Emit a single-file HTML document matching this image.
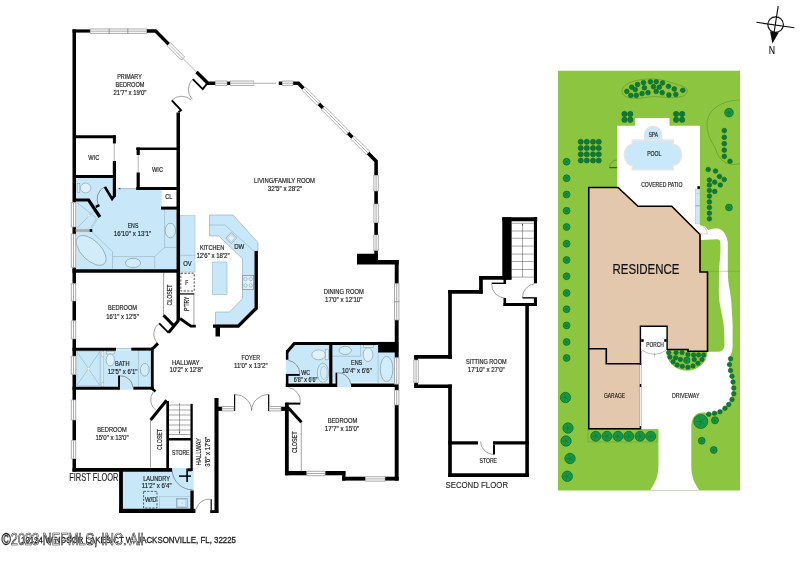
<!DOCTYPE html>
<html><head><meta charset="utf-8"><title>Floor plan</title>
<style>
html,body{margin:0;padding:0;background:#fff;}
body{width:800px;height:565px;overflow:hidden;}
svg{display:block;font-family:"Liberation Sans",sans-serif;}
</style></head><body>
<svg width="800" height="565" viewBox="0 0 800 565">
<defs><filter id="bl" filterUnits="userSpaceOnUse" x="0" y="0" width="800" height="565"><feGaussianBlur stdDeviation="0.35"/></filter></defs>
<rect width="800" height="565" fill="#fff"/>
<g filter="url(#bl)">
<rect x="558" y="70.75" width="182" height="419.75" fill="#8cc63f" stroke="none" stroke-width="0" />
<path d="M740,100 C725,100 707,108 707,124 C707,138 714,144 716,150 C718,158 724,163 730,164 C734,165 738,164 740,163.5" fill="none" stroke="#4f8a26" stroke-width="0.5"/>
<path d="M622,91 C622,83 638,78.5 653,79 C666,79.5 674,84 682,86 C689,87.5 689,94 682,96.5 C672,99.5 658,95.5 648,97 C636,99.5 622,99 622,91 Z" fill="none" stroke="#4f8a26" stroke-width="0.5"/>
<polygon points="617,125.75 635,125.75 635,118 669.5,118 669.5,125.75 700,125.75 700,236 617,236" fill="#fff" stroke="none" stroke-width="0"/>
<path d="M700.1,225 C704,225.5 707,227.5 708,230 C711,229 714,228.5 717.2,228.6 C722,229 726,233 727.8,242 L727.8,272 C727.8,285 731,292 731.5,305 C732,315 732.6,320 732.6,326 L732.6,346 C732.6,352 730.5,355 729.5,358 C728.5,365 729,368 730,372 C731.5,378 732.6,384 732.6,390 C732.6,398 728.5,405 721.5,409.7 C716,412.8 710,413.8 704,412.6 C697,411.5 691.6,417 691.3,425 L691.25,465 C691.25,478 695,484 699.5,490.5 L650,490.5 C654,484 658.5,478 658.5,465 L658.5,429.5 L640.5,429.5 L640.5,350 L667,350 L667,351 L707.5,351.8 L717.6,351.8 C722,351.8 724.5,349 724.5,345 L724.3,335 C724,325 723.4,323 722,315 C720,305 718.8,300 718.8,290 L719,275 C719,265 720.4,258 720.4,250 L720.3,243 C720.3,240.5 719.7,239.4 717,239.3 L701.7,240 C700.5,240 700.1,239 700.1,238 L700.1,225 Z" fill="#fff"/>
<path d="M666.25,351.25 A20.6,19.5 0 0 0 707.5,351.25 Z" fill="#8cc63f"/>
<line x1="650" y1="490.3" x2="699.5" y2="490.3" stroke="#bbb" stroke-width="0.5"/>
<rect x="588" y="429.5" width="69" height="12.5" fill="none" stroke="#5d9a2c" stroke-width="0.5" />
<polygon points="588.75,187.5 618,187.5 638,206.25 671.75,206.25 700,234.5 700,272 707.5,272 707.5,351.25 688,351.25 688,349.5 667,349.5 667,326.25 640.5,326.25 640.5,363.75 606.25,363.75 606.25,348.75 588.75,348.75" fill="#e3c8ad" stroke="#000" stroke-width="1.6"/>
<polygon points="588.75,348.75 606.25,348.75 606.25,363.75 640.5,363.75 640.5,428.75 588.75,428.75" fill="#e3c8ad" stroke="#000" stroke-width="1.6"/>
<rect x="639.6" y="365" width="1.8" height="61" fill="#eee" stroke="none" stroke-width="0" />
<rect x="639.8" y="384" width="1.4" height="3" fill="#000" stroke="none" stroke-width="0" />
<rect x="641.2" y="327" width="25.1" height="24" fill="#fff" stroke="none" stroke-width="0" />
<rect x="641.2" y="339.2" width="2.5" height="2.6" fill="#000" stroke="none" stroke-width="0" />
<rect x="664.2" y="339.2" width="2.5" height="2.6" fill="#000" stroke="none" stroke-width="0" />
<path d="M642.4,350.4 Q654.5,358.4 666,350.4" fill="none" stroke="#777" stroke-width="0.5"/>
<line x1="654.5" y1="353" x2="654.5" y2="357.7" stroke="#777" stroke-width="0.4"/>
<path d="M644.7,140.1 L644.7,134.5 A8.45,8.4 0 0 1 661.6,134.5 L661.6,140.1 Z" fill="#c9e8fa" stroke="#e4e6e8" stroke-width="1.4"/>
<path d="M632.3,140.1 L673.1,140.1 L673.1,144.5 A8.4,10.35 0 0 1 673.1,165.2 L673.1,169.6 L632.3,169.6 L632.3,165.2 A7.9,10.35 0 0 1 632.3,144.5 Z" fill="#c9e8fa" stroke="#e4e6e8" stroke-width="1.6"/>
<path d="M609.6,167.2 A7.5,7.3 0 0 1 617.2,160" fill="none" stroke="#4c6a1c" stroke-width="0.5"/>
<line x1="609.4" y1="167.6" x2="617.2" y2="167.6" stroke="#4a5a1a" stroke-width="1.3"/>
<rect x="695.3" y="189.3" width="4.6" height="34.7" fill="#cfe9fa" stroke="#9db7c6" stroke-width="0.4" />
<rect x="697.4" y="186.2" width="2.5" height="2.7" fill="#000" stroke="none" stroke-width="0" />
<line x1="695.3" y1="193.5" x2="699.9" y2="193.5" stroke="#9db7c6" stroke-width="0.4"/>
<line x1="695.3" y1="205.8" x2="699.9" y2="205.8" stroke="#777" stroke-width="0.6"/>
<path d="M700.1,225.2 A8.7,8.7 0 0 1 707.3,233.9 L700.1,233.9" fill="none" stroke="#999" stroke-width="0.45"/>
<line x1="708" y1="271.25" x2="740" y2="271.25" stroke="#5d9a2c" stroke-width="0.4"/>
<circle cx="566.6" cy="161.75" r="3.4" fill="#169845" stroke="#0a632a" stroke-width="0.7"/>
<line x1="566.6" y1="161.75" x2="568.7" y2="163.19" stroke="#0a6a2c" stroke-width="0.4"/>
<line x1="566.6" y1="161.75" x2="565.88" y2="164.2" stroke="#0a6a2c" stroke-width="0.4"/>
<line x1="566.6" y1="161.75" x2="564.05" y2="161.82" stroke="#0a6a2c" stroke-width="0.4"/>
<line x1="566.6" y1="161.75" x2="565.74" y2="159.35" stroke="#0a6a2c" stroke-width="0.4"/>
<line x1="566.6" y1="161.75" x2="568.62" y2="160.19" stroke="#0a6a2c" stroke-width="0.4"/>
<circle cx="566.6" cy="178.25" r="3.4" fill="#169845" stroke="#0a632a" stroke-width="0.7"/>
<line x1="566.6" y1="178.25" x2="568.7" y2="179.69" stroke="#0a6a2c" stroke-width="0.4"/>
<line x1="566.6" y1="178.25" x2="565.88" y2="180.7" stroke="#0a6a2c" stroke-width="0.4"/>
<line x1="566.6" y1="178.25" x2="564.05" y2="178.32" stroke="#0a6a2c" stroke-width="0.4"/>
<line x1="566.6" y1="178.25" x2="565.74" y2="175.85" stroke="#0a6a2c" stroke-width="0.4"/>
<line x1="566.6" y1="178.25" x2="568.62" y2="176.69" stroke="#0a6a2c" stroke-width="0.4"/>
<circle cx="566.6" cy="194.5" r="3.4" fill="#169845" stroke="#0a632a" stroke-width="0.7"/>
<line x1="566.6" y1="194.5" x2="568.7" y2="195.94" stroke="#0a6a2c" stroke-width="0.4"/>
<line x1="566.6" y1="194.5" x2="565.88" y2="196.95" stroke="#0a6a2c" stroke-width="0.4"/>
<line x1="566.6" y1="194.5" x2="564.05" y2="194.57" stroke="#0a6a2c" stroke-width="0.4"/>
<line x1="566.6" y1="194.5" x2="565.74" y2="192.1" stroke="#0a6a2c" stroke-width="0.4"/>
<line x1="566.6" y1="194.5" x2="568.62" y2="192.94" stroke="#0a6a2c" stroke-width="0.4"/>
<circle cx="566.6" cy="210.75" r="3.4" fill="#169845" stroke="#0a632a" stroke-width="0.7"/>
<line x1="566.6" y1="210.75" x2="568.7" y2="212.19" stroke="#0a6a2c" stroke-width="0.4"/>
<line x1="566.6" y1="210.75" x2="565.88" y2="213.2" stroke="#0a6a2c" stroke-width="0.4"/>
<line x1="566.6" y1="210.75" x2="564.05" y2="210.82" stroke="#0a6a2c" stroke-width="0.4"/>
<line x1="566.6" y1="210.75" x2="565.74" y2="208.35" stroke="#0a6a2c" stroke-width="0.4"/>
<line x1="566.6" y1="210.75" x2="568.62" y2="209.19" stroke="#0a6a2c" stroke-width="0.4"/>
<circle cx="566.6" cy="227" r="3.4" fill="#169845" stroke="#0a632a" stroke-width="0.7"/>
<line x1="566.6" y1="227" x2="568.7" y2="228.44" stroke="#0a6a2c" stroke-width="0.4"/>
<line x1="566.6" y1="227" x2="565.88" y2="229.45" stroke="#0a6a2c" stroke-width="0.4"/>
<line x1="566.6" y1="227" x2="564.05" y2="227.07" stroke="#0a6a2c" stroke-width="0.4"/>
<line x1="566.6" y1="227" x2="565.74" y2="224.6" stroke="#0a6a2c" stroke-width="0.4"/>
<line x1="566.6" y1="227" x2="568.62" y2="225.44" stroke="#0a6a2c" stroke-width="0.4"/>
<circle cx="566.6" cy="243.75" r="3.4" fill="#169845" stroke="#0a632a" stroke-width="0.7"/>
<line x1="566.6" y1="243.75" x2="568.7" y2="245.19" stroke="#0a6a2c" stroke-width="0.4"/>
<line x1="566.6" y1="243.75" x2="565.88" y2="246.2" stroke="#0a6a2c" stroke-width="0.4"/>
<line x1="566.6" y1="243.75" x2="564.05" y2="243.82" stroke="#0a6a2c" stroke-width="0.4"/>
<line x1="566.6" y1="243.75" x2="565.74" y2="241.35" stroke="#0a6a2c" stroke-width="0.4"/>
<line x1="566.6" y1="243.75" x2="568.62" y2="242.19" stroke="#0a6a2c" stroke-width="0.4"/>
<circle cx="566.6" cy="260" r="3.4" fill="#169845" stroke="#0a632a" stroke-width="0.7"/>
<line x1="566.6" y1="260" x2="568.7" y2="261.44" stroke="#0a6a2c" stroke-width="0.4"/>
<line x1="566.6" y1="260" x2="565.88" y2="262.45" stroke="#0a6a2c" stroke-width="0.4"/>
<line x1="566.6" y1="260" x2="564.05" y2="260.07" stroke="#0a6a2c" stroke-width="0.4"/>
<line x1="566.6" y1="260" x2="565.74" y2="257.6" stroke="#0a6a2c" stroke-width="0.4"/>
<line x1="566.6" y1="260" x2="568.62" y2="258.44" stroke="#0a6a2c" stroke-width="0.4"/>
<circle cx="566.6" cy="276.25" r="3.4" fill="#169845" stroke="#0a632a" stroke-width="0.7"/>
<line x1="566.6" y1="276.25" x2="568.7" y2="277.69" stroke="#0a6a2c" stroke-width="0.4"/>
<line x1="566.6" y1="276.25" x2="565.88" y2="278.7" stroke="#0a6a2c" stroke-width="0.4"/>
<line x1="566.6" y1="276.25" x2="564.05" y2="276.32" stroke="#0a6a2c" stroke-width="0.4"/>
<line x1="566.6" y1="276.25" x2="565.74" y2="273.85" stroke="#0a6a2c" stroke-width="0.4"/>
<line x1="566.6" y1="276.25" x2="568.62" y2="274.69" stroke="#0a6a2c" stroke-width="0.4"/>
<circle cx="566.6" cy="293" r="3.4" fill="#169845" stroke="#0a632a" stroke-width="0.7"/>
<line x1="566.6" y1="293" x2="568.7" y2="294.44" stroke="#0a6a2c" stroke-width="0.4"/>
<line x1="566.6" y1="293" x2="565.88" y2="295.45" stroke="#0a6a2c" stroke-width="0.4"/>
<line x1="566.6" y1="293" x2="564.05" y2="293.07" stroke="#0a6a2c" stroke-width="0.4"/>
<line x1="566.6" y1="293" x2="565.74" y2="290.6" stroke="#0a6a2c" stroke-width="0.4"/>
<line x1="566.6" y1="293" x2="568.62" y2="291.44" stroke="#0a6a2c" stroke-width="0.4"/>
<circle cx="566.6" cy="309.25" r="3.4" fill="#169845" stroke="#0a632a" stroke-width="0.7"/>
<line x1="566.6" y1="309.25" x2="568.7" y2="310.69" stroke="#0a6a2c" stroke-width="0.4"/>
<line x1="566.6" y1="309.25" x2="565.88" y2="311.7" stroke="#0a6a2c" stroke-width="0.4"/>
<line x1="566.6" y1="309.25" x2="564.05" y2="309.32" stroke="#0a6a2c" stroke-width="0.4"/>
<line x1="566.6" y1="309.25" x2="565.74" y2="306.85" stroke="#0a6a2c" stroke-width="0.4"/>
<line x1="566.6" y1="309.25" x2="568.62" y2="307.69" stroke="#0a6a2c" stroke-width="0.4"/>
<circle cx="566.6" cy="325.5" r="3.4" fill="#169845" stroke="#0a632a" stroke-width="0.7"/>
<line x1="566.6" y1="325.5" x2="568.7" y2="326.94" stroke="#0a6a2c" stroke-width="0.4"/>
<line x1="566.6" y1="325.5" x2="565.88" y2="327.95" stroke="#0a6a2c" stroke-width="0.4"/>
<line x1="566.6" y1="325.5" x2="564.05" y2="325.57" stroke="#0a6a2c" stroke-width="0.4"/>
<line x1="566.6" y1="325.5" x2="565.74" y2="323.1" stroke="#0a6a2c" stroke-width="0.4"/>
<line x1="566.6" y1="325.5" x2="568.62" y2="323.94" stroke="#0a6a2c" stroke-width="0.4"/>
<circle cx="566.6" cy="342" r="3.4" fill="#169845" stroke="#0a632a" stroke-width="0.7"/>
<line x1="566.6" y1="342" x2="568.7" y2="343.44" stroke="#0a6a2c" stroke-width="0.4"/>
<line x1="566.6" y1="342" x2="565.88" y2="344.45" stroke="#0a6a2c" stroke-width="0.4"/>
<line x1="566.6" y1="342" x2="564.05" y2="342.07" stroke="#0a6a2c" stroke-width="0.4"/>
<line x1="566.6" y1="342" x2="565.74" y2="339.6" stroke="#0a6a2c" stroke-width="0.4"/>
<line x1="566.6" y1="342" x2="568.62" y2="340.44" stroke="#0a6a2c" stroke-width="0.4"/>
<circle cx="566.6" cy="358" r="3.4" fill="#169845" stroke="#0a632a" stroke-width="0.7"/>
<line x1="566.6" y1="358" x2="568.7" y2="359.44" stroke="#0a6a2c" stroke-width="0.4"/>
<line x1="566.6" y1="358" x2="565.88" y2="360.45" stroke="#0a6a2c" stroke-width="0.4"/>
<line x1="566.6" y1="358" x2="564.05" y2="358.07" stroke="#0a6a2c" stroke-width="0.4"/>
<line x1="566.6" y1="358" x2="565.74" y2="355.6" stroke="#0a6a2c" stroke-width="0.4"/>
<line x1="566.6" y1="358" x2="568.62" y2="356.44" stroke="#0a6a2c" stroke-width="0.4"/>
<circle cx="565.5" cy="397.5" r="5.2" fill="#169845" stroke="#0a632a" stroke-width="0.7"/>
<line x1="565.5" y1="397.5" x2="568.72" y2="399.7" stroke="#0a6a2c" stroke-width="0.4"/>
<line x1="565.5" y1="397.5" x2="564.4" y2="401.24" stroke="#0a6a2c" stroke-width="0.4"/>
<line x1="565.5" y1="397.5" x2="561.6" y2="397.61" stroke="#0a6a2c" stroke-width="0.4"/>
<line x1="565.5" y1="397.5" x2="564.19" y2="393.83" stroke="#0a6a2c" stroke-width="0.4"/>
<line x1="565.5" y1="397.5" x2="568.59" y2="395.12" stroke="#0a6a2c" stroke-width="0.4"/>
<circle cx="568" cy="428" r="5.2" fill="#169845" stroke="#0a632a" stroke-width="0.7"/>
<line x1="568" y1="428" x2="571.22" y2="430.2" stroke="#0a6a2c" stroke-width="0.4"/>
<line x1="568" y1="428" x2="566.9" y2="431.74" stroke="#0a6a2c" stroke-width="0.4"/>
<line x1="568" y1="428" x2="564.1" y2="428.11" stroke="#0a6a2c" stroke-width="0.4"/>
<line x1="568" y1="428" x2="566.69" y2="424.33" stroke="#0a6a2c" stroke-width="0.4"/>
<line x1="568" y1="428" x2="571.09" y2="425.62" stroke="#0a6a2c" stroke-width="0.4"/>
<circle cx="566" cy="441" r="5.2" fill="#169845" stroke="#0a632a" stroke-width="0.7"/>
<line x1="566" y1="441" x2="569.22" y2="443.2" stroke="#0a6a2c" stroke-width="0.4"/>
<line x1="566" y1="441" x2="564.9" y2="444.74" stroke="#0a6a2c" stroke-width="0.4"/>
<line x1="566" y1="441" x2="562.1" y2="441.11" stroke="#0a6a2c" stroke-width="0.4"/>
<line x1="566" y1="441" x2="564.69" y2="437.33" stroke="#0a6a2c" stroke-width="0.4"/>
<line x1="566" y1="441" x2="569.09" y2="438.62" stroke="#0a6a2c" stroke-width="0.4"/>
<circle cx="570" cy="458.5" r="5.2" fill="#169845" stroke="#0a632a" stroke-width="0.7"/>
<line x1="570" y1="458.5" x2="573.22" y2="460.7" stroke="#0a6a2c" stroke-width="0.4"/>
<line x1="570" y1="458.5" x2="568.9" y2="462.24" stroke="#0a6a2c" stroke-width="0.4"/>
<line x1="570" y1="458.5" x2="566.1" y2="458.61" stroke="#0a6a2c" stroke-width="0.4"/>
<line x1="570" y1="458.5" x2="568.69" y2="454.83" stroke="#0a6a2c" stroke-width="0.4"/>
<line x1="570" y1="458.5" x2="573.09" y2="456.12" stroke="#0a6a2c" stroke-width="0.4"/>
<circle cx="567.3" cy="476.25" r="5.2" fill="#169845" stroke="#0a632a" stroke-width="0.7"/>
<line x1="567.3" y1="476.25" x2="570.52" y2="478.45" stroke="#0a6a2c" stroke-width="0.4"/>
<line x1="567.3" y1="476.25" x2="566.2" y2="479.99" stroke="#0a6a2c" stroke-width="0.4"/>
<line x1="567.3" y1="476.25" x2="563.4" y2="476.36" stroke="#0a6a2c" stroke-width="0.4"/>
<line x1="567.3" y1="476.25" x2="565.99" y2="472.58" stroke="#0a6a2c" stroke-width="0.4"/>
<line x1="567.3" y1="476.25" x2="570.39" y2="473.87" stroke="#0a6a2c" stroke-width="0.4"/>
<circle cx="580.75" cy="141.75" r="2.6" fill="#107a36" stroke="#0a5c27" stroke-width="0.5"/>
<circle cx="580.75" cy="148" r="2.6" fill="#107a36" stroke="#0a5c27" stroke-width="0.5"/>
<circle cx="580.75" cy="154.25" r="2.6" fill="#107a36" stroke="#0a5c27" stroke-width="0.5"/>
<circle cx="580.75" cy="160.5" r="2.6" fill="#107a36" stroke="#0a5c27" stroke-width="0.5"/>
<circle cx="586.75" cy="141.75" r="2.6" fill="#107a36" stroke="#0a5c27" stroke-width="0.5"/>
<circle cx="586.75" cy="148" r="2.6" fill="#107a36" stroke="#0a5c27" stroke-width="0.5"/>
<circle cx="586.75" cy="154.25" r="2.6" fill="#107a36" stroke="#0a5c27" stroke-width="0.5"/>
<circle cx="586.75" cy="160.5" r="2.6" fill="#107a36" stroke="#0a5c27" stroke-width="0.5"/>
<circle cx="593" cy="141.75" r="2.6" fill="#107a36" stroke="#0a5c27" stroke-width="0.5"/>
<circle cx="593" cy="148" r="2.6" fill="#107a36" stroke="#0a5c27" stroke-width="0.5"/>
<circle cx="593" cy="154.25" r="2.6" fill="#107a36" stroke="#0a5c27" stroke-width="0.5"/>
<circle cx="593" cy="160.5" r="2.6" fill="#107a36" stroke="#0a5c27" stroke-width="0.5"/>
<circle cx="598.75" cy="141.75" r="2.6" fill="#107a36" stroke="#0a5c27" stroke-width="0.5"/>
<circle cx="598.75" cy="148" r="2.6" fill="#107a36" stroke="#0a5c27" stroke-width="0.5"/>
<circle cx="598.75" cy="154.25" r="2.6" fill="#107a36" stroke="#0a5c27" stroke-width="0.5"/>
<circle cx="598.75" cy="160.5" r="2.6" fill="#107a36" stroke="#0a5c27" stroke-width="0.5"/>
<circle cx="624.5" cy="114" r="2.7" fill="#107a36" stroke="#0a5c27" stroke-width="0.5"/>
<circle cx="630.3" cy="114" r="2.7" fill="#107a36" stroke="#0a5c27" stroke-width="0.5"/>
<circle cx="624.5" cy="119.8" r="2.7" fill="#107a36" stroke="#0a5c27" stroke-width="0.5"/>
<circle cx="630.3" cy="119.8" r="2.7" fill="#107a36" stroke="#0a5c27" stroke-width="0.5"/>
<circle cx="676.1" cy="114" r="2.7" fill="#107a36" stroke="#0a5c27" stroke-width="0.5"/>
<circle cx="682.1" cy="114" r="2.7" fill="#107a36" stroke="#0a5c27" stroke-width="0.5"/>
<circle cx="676.1" cy="119.8" r="2.7" fill="#107a36" stroke="#0a5c27" stroke-width="0.5"/>
<circle cx="682.1" cy="119.8" r="2.7" fill="#107a36" stroke="#0a5c27" stroke-width="0.5"/>
<circle cx="626.8" cy="91.4" r="2.4" fill="#107a36" stroke="#0a5c27" stroke-width="0.5"/>
<circle cx="630.8" cy="95.4" r="2.4" fill="#107a36" stroke="#0a5c27" stroke-width="0.5"/>
<circle cx="631.7" cy="87.2" r="2.4" fill="#107a36" stroke="#0a5c27" stroke-width="0.5"/>
<circle cx="636.3" cy="95.4" r="2.4" fill="#107a36" stroke="#0a5c27" stroke-width="0.5"/>
<circle cx="635.3" cy="89.6" r="2.4" fill="#107a36" stroke="#0a5c27" stroke-width="0.5"/>
<circle cx="637.5" cy="84.5" r="2.4" fill="#107a36" stroke="#0a5c27" stroke-width="0.5"/>
<circle cx="642" cy="93.6" r="2.4" fill="#107a36" stroke="#0a5c27" stroke-width="0.5"/>
<circle cx="643.5" cy="82.7" r="2.4" fill="#107a36" stroke="#0a5c27" stroke-width="0.5"/>
<circle cx="644.4" cy="87.8" r="2.4" fill="#107a36" stroke="#0a5c27" stroke-width="0.5"/>
<circle cx="648" cy="92.7" r="2.4" fill="#107a36" stroke="#0a5c27" stroke-width="0.5"/>
<circle cx="650.4" cy="81.8" r="2.4" fill="#107a36" stroke="#0a5c27" stroke-width="0.5"/>
<circle cx="653.5" cy="86.7" r="2.4" fill="#107a36" stroke="#0a5c27" stroke-width="0.5"/>
<circle cx="656.2" cy="81.8" r="2.4" fill="#107a36" stroke="#0a5c27" stroke-width="0.5"/>
<circle cx="656.2" cy="91.4" r="2.4" fill="#107a36" stroke="#0a5c27" stroke-width="0.5"/>
<circle cx="659.3" cy="87.2" r="2.4" fill="#107a36" stroke="#0a5c27" stroke-width="0.5"/>
<circle cx="662.5" cy="83" r="2.4" fill="#107a36" stroke="#0a5c27" stroke-width="0.5"/>
<circle cx="662.2" cy="92.7" r="2.4" fill="#107a36" stroke="#0a5c27" stroke-width="0.5"/>
<circle cx="668.5" cy="86.3" r="2.4" fill="#107a36" stroke="#0a5c27" stroke-width="0.5"/>
<circle cx="668.9" cy="95" r="2.4" fill="#107a36" stroke="#0a5c27" stroke-width="0.5"/>
<circle cx="674.3" cy="89" r="2.4" fill="#107a36" stroke="#0a5c27" stroke-width="0.5"/>
<circle cx="675.8" cy="94.5" r="2.4" fill="#107a36" stroke="#0a5c27" stroke-width="0.5"/>
<circle cx="682.8" cy="90.3" r="2.4" fill="#107a36" stroke="#0a5c27" stroke-width="0.5"/>
<circle cx="729" cy="112.6" r="4.3" fill="#169845" stroke="#0a632a" stroke-width="0.7"/>
<line x1="729" y1="112.6" x2="731.66" y2="114.42" stroke="#0a6a2c" stroke-width="0.4"/>
<line x1="729" y1="112.6" x2="728.09" y2="115.69" stroke="#0a6a2c" stroke-width="0.4"/>
<line x1="729" y1="112.6" x2="725.78" y2="112.69" stroke="#0a6a2c" stroke-width="0.4"/>
<line x1="729" y1="112.6" x2="727.92" y2="109.56" stroke="#0a6a2c" stroke-width="0.4"/>
<line x1="729" y1="112.6" x2="731.55" y2="110.63" stroke="#0a6a2c" stroke-width="0.4"/>
<circle cx="724.3" cy="130.6" r="2.4" fill="#107a36" stroke="#0a5c27" stroke-width="0.5"/>
<circle cx="724.3" cy="137.3" r="2.4" fill="#107a36" stroke="#0a5c27" stroke-width="0.5"/>
<circle cx="724.3" cy="143.7" r="2.4" fill="#107a36" stroke="#0a5c27" stroke-width="0.5"/>
<circle cx="724.3" cy="150.1" r="2.4" fill="#107a36" stroke="#0a5c27" stroke-width="0.5"/>
<circle cx="724.3" cy="156.4" r="2.4" fill="#107a36" stroke="#0a5c27" stroke-width="0.5"/>
<circle cx="730" cy="161.25" r="2.3" fill="#107a36" stroke="#0a5c27" stroke-width="0.5"/>
<circle cx="708.25" cy="169.5" r="2.35" fill="#107a36" stroke="#0a5c27" stroke-width="0.5"/>
<circle cx="715.5" cy="171" r="2.35" fill="#107a36" stroke="#0a5c27" stroke-width="0.5"/>
<circle cx="719.5" cy="176.5" r="2.35" fill="#107a36" stroke="#0a5c27" stroke-width="0.5"/>
<circle cx="724.25" cy="179.5" r="2.35" fill="#107a36" stroke="#0a5c27" stroke-width="0.5"/>
<circle cx="709.4" cy="180" r="2.35" fill="#107a36" stroke="#0a5c27" stroke-width="0.5"/>
<circle cx="714.7" cy="182.2" r="2.35" fill="#107a36" stroke="#0a5c27" stroke-width="0.5"/>
<circle cx="720.3" cy="185" r="2.35" fill="#107a36" stroke="#0a5c27" stroke-width="0.5"/>
<circle cx="709.4" cy="185" r="2.35" fill="#107a36" stroke="#0a5c27" stroke-width="0.5"/>
<circle cx="709.4" cy="190.5" r="2.35" fill="#107a36" stroke="#0a5c27" stroke-width="0.5"/>
<circle cx="714.7" cy="191.4" r="2.35" fill="#107a36" stroke="#0a5c27" stroke-width="0.5"/>
<circle cx="709.4" cy="196.1" r="2.35" fill="#107a36" stroke="#0a5c27" stroke-width="0.5"/>
<circle cx="709.4" cy="201.9" r="2.35" fill="#107a36" stroke="#0a5c27" stroke-width="0.5"/>
<circle cx="709.4" cy="207.5" r="2.35" fill="#107a36" stroke="#0a5c27" stroke-width="0.5"/>
<circle cx="709.4" cy="213.2" r="2.35" fill="#107a36" stroke="#0a5c27" stroke-width="0.5"/>
<circle cx="709.4" cy="218.8" r="2.35" fill="#107a36" stroke="#0a5c27" stroke-width="0.5"/>
<circle cx="729" cy="207.5" r="3.4" fill="#169845" stroke="#0a632a" stroke-width="0.7"/>
<line x1="729" y1="207.5" x2="731.1" y2="208.94" stroke="#0a6a2c" stroke-width="0.4"/>
<line x1="729" y1="207.5" x2="728.28" y2="209.95" stroke="#0a6a2c" stroke-width="0.4"/>
<line x1="729" y1="207.5" x2="726.45" y2="207.57" stroke="#0a6a2c" stroke-width="0.4"/>
<line x1="729" y1="207.5" x2="728.14" y2="205.1" stroke="#0a6a2c" stroke-width="0.4"/>
<line x1="729" y1="207.5" x2="731.02" y2="205.94" stroke="#0a6a2c" stroke-width="0.4"/>
<circle cx="668.8" cy="352.6" r="2.25" fill="#107a36" stroke="#0a5c27" stroke-width="0.5"/>
<circle cx="676.1" cy="352.4" r="2.25" fill="#107a36" stroke="#0a5c27" stroke-width="0.5"/>
<circle cx="682" cy="352.6" r="2.25" fill="#107a36" stroke="#0a5c27" stroke-width="0.5"/>
<circle cx="687.9" cy="354.6" r="2.25" fill="#107a36" stroke="#0a5c27" stroke-width="0.5"/>
<circle cx="693.6" cy="354.9" r="2.25" fill="#107a36" stroke="#0a5c27" stroke-width="0.5"/>
<circle cx="698.6" cy="354.9" r="2.25" fill="#107a36" stroke="#0a5c27" stroke-width="0.5"/>
<circle cx="703.7" cy="354.9" r="2.25" fill="#107a36" stroke="#0a5c27" stroke-width="0.5"/>
<circle cx="669.9" cy="357.1" r="2.25" fill="#107a36" stroke="#0a5c27" stroke-width="0.5"/>
<circle cx="675.6" cy="357.7" r="2.25" fill="#107a36" stroke="#0a5c27" stroke-width="0.5"/>
<circle cx="680.4" cy="359.4" r="2.25" fill="#107a36" stroke="#0a5c27" stroke-width="0.5"/>
<circle cx="694.3" cy="359.6" r="2.25" fill="#107a36" stroke="#0a5c27" stroke-width="0.5"/>
<circle cx="702" cy="359.6" r="2.25" fill="#107a36" stroke="#0a5c27" stroke-width="0.5"/>
<circle cx="673.1" cy="361.8" r="2.25" fill="#107a36" stroke="#0a5c27" stroke-width="0.5"/>
<circle cx="677.2" cy="365" r="2.25" fill="#107a36" stroke="#0a5c27" stroke-width="0.5"/>
<circle cx="682.3" cy="366.3" r="2.25" fill="#107a36" stroke="#0a5c27" stroke-width="0.5"/>
<circle cx="687.9" cy="367.2" r="2.25" fill="#107a36" stroke="#0a5c27" stroke-width="0.5"/>
<circle cx="693" cy="365.9" r="2.25" fill="#107a36" stroke="#0a5c27" stroke-width="0.5"/>
<circle cx="698" cy="363.3" r="2.25" fill="#107a36" stroke="#0a5c27" stroke-width="0.5"/>
<circle cx="686.8" cy="360.3" r="3.2" fill="#169845" stroke="#0a632a" stroke-width="0.7"/>
<line x1="686.8" y1="360.3" x2="688.78" y2="361.66" stroke="#0a6a2c" stroke-width="0.4"/>
<line x1="686.8" y1="360.3" x2="686.12" y2="362.6" stroke="#0a6a2c" stroke-width="0.4"/>
<line x1="686.8" y1="360.3" x2="684.4" y2="360.37" stroke="#0a6a2c" stroke-width="0.4"/>
<line x1="686.8" y1="360.3" x2="685.99" y2="358.04" stroke="#0a6a2c" stroke-width="0.4"/>
<line x1="686.8" y1="360.3" x2="688.7" y2="358.83" stroke="#0a6a2c" stroke-width="0.4"/>
<circle cx="730.5" cy="358.75" r="2.3" fill="#107a36" stroke="#0a5c27" stroke-width="0.5"/>
<circle cx="729.5" cy="364.5" r="2.3" fill="#107a36" stroke="#0a5c27" stroke-width="0.5"/>
<circle cx="730.5" cy="370.5" r="2.3" fill="#107a36" stroke="#0a5c27" stroke-width="0.5"/>
<circle cx="732" cy="376.25" r="2.3" fill="#107a36" stroke="#0a5c27" stroke-width="0.5"/>
<circle cx="733" cy="382" r="2.3" fill="#107a36" stroke="#0a5c27" stroke-width="0.5"/>
<circle cx="733.75" cy="388" r="2.3" fill="#107a36" stroke="#0a5c27" stroke-width="0.5"/>
<circle cx="733.75" cy="393.75" r="2.3" fill="#107a36" stroke="#0a5c27" stroke-width="0.5"/>
<circle cx="732" cy="399.5" r="2.3" fill="#107a36" stroke="#0a5c27" stroke-width="0.5"/>
<circle cx="728.75" cy="404.5" r="2.3" fill="#107a36" stroke="#0a5c27" stroke-width="0.5"/>
<circle cx="725" cy="408.25" r="2.3" fill="#107a36" stroke="#0a5c27" stroke-width="0.5"/>
<circle cx="720" cy="411.75" r="2.3" fill="#107a36" stroke="#0a5c27" stroke-width="0.5"/>
<circle cx="714.5" cy="413.25" r="2.3" fill="#107a36" stroke="#0a5c27" stroke-width="0.5"/>
<circle cx="708.75" cy="414.25" r="2.3" fill="#107a36" stroke="#0a5c27" stroke-width="0.5"/>
<circle cx="700.75" cy="421.5" r="7" fill="#169845" stroke="#0a632a" stroke-width="0.7"/>
<line x1="700.75" y1="421.5" x2="705.08" y2="424.46" stroke="#0a6a2c" stroke-width="0.4"/>
<line x1="700.75" y1="421.5" x2="699.27" y2="426.54" stroke="#0a6a2c" stroke-width="0.4"/>
<line x1="700.75" y1="421.5" x2="695.5" y2="421.65" stroke="#0a6a2c" stroke-width="0.4"/>
<line x1="700.75" y1="421.5" x2="698.99" y2="416.55" stroke="#0a6a2c" stroke-width="0.4"/>
<line x1="700.75" y1="421.5" x2="704.91" y2="418.3" stroke="#0a6a2c" stroke-width="0.4"/>
<circle cx="715" cy="420.3" r="3.5" fill="#169845" stroke="#0a632a" stroke-width="0.7"/>
<line x1="715" y1="420.3" x2="717.17" y2="421.78" stroke="#0a6a2c" stroke-width="0.4"/>
<line x1="715" y1="420.3" x2="714.26" y2="422.82" stroke="#0a6a2c" stroke-width="0.4"/>
<line x1="715" y1="420.3" x2="712.38" y2="420.37" stroke="#0a6a2c" stroke-width="0.4"/>
<line x1="715" y1="420.3" x2="714.12" y2="417.83" stroke="#0a6a2c" stroke-width="0.4"/>
<line x1="715" y1="420.3" x2="717.08" y2="418.7" stroke="#0a6a2c" stroke-width="0.4"/>
<circle cx="701.75" cy="440.75" r="3.4" fill="#169845" stroke="#0a632a" stroke-width="0.7"/>
<line x1="701.75" y1="440.75" x2="703.85" y2="442.19" stroke="#0a6a2c" stroke-width="0.4"/>
<line x1="701.75" y1="440.75" x2="701.03" y2="443.2" stroke="#0a6a2c" stroke-width="0.4"/>
<line x1="701.75" y1="440.75" x2="699.2" y2="440.82" stroke="#0a6a2c" stroke-width="0.4"/>
<line x1="701.75" y1="440.75" x2="700.89" y2="438.35" stroke="#0a6a2c" stroke-width="0.4"/>
<line x1="701.75" y1="440.75" x2="703.77" y2="439.19" stroke="#0a6a2c" stroke-width="0.4"/>
<circle cx="713.75" cy="450" r="3.4" fill="#169845" stroke="#0a632a" stroke-width="0.7"/>
<line x1="713.75" y1="450" x2="715.85" y2="451.44" stroke="#0a6a2c" stroke-width="0.4"/>
<line x1="713.75" y1="450" x2="713.03" y2="452.45" stroke="#0a6a2c" stroke-width="0.4"/>
<line x1="713.75" y1="450" x2="711.2" y2="450.07" stroke="#0a6a2c" stroke-width="0.4"/>
<line x1="713.75" y1="450" x2="712.89" y2="447.6" stroke="#0a6a2c" stroke-width="0.4"/>
<line x1="713.75" y1="450" x2="715.77" y2="448.44" stroke="#0a6a2c" stroke-width="0.4"/>
<circle cx="595.75" cy="436.25" r="5" fill="#169845" stroke="#0a632a" stroke-width="0.7"/>
<line x1="595.75" y1="436.25" x2="598.85" y2="438.37" stroke="#0a6a2c" stroke-width="0.4"/>
<line x1="595.75" y1="436.25" x2="594.69" y2="439.85" stroke="#0a6a2c" stroke-width="0.4"/>
<line x1="595.75" y1="436.25" x2="592.0" y2="436.36" stroke="#0a6a2c" stroke-width="0.4"/>
<line x1="595.75" y1="436.25" x2="594.49" y2="432.72" stroke="#0a6a2c" stroke-width="0.4"/>
<line x1="595.75" y1="436.25" x2="598.72" y2="433.96" stroke="#0a6a2c" stroke-width="0.4"/>
<circle cx="607" cy="436.25" r="5" fill="#169845" stroke="#0a632a" stroke-width="0.7"/>
<line x1="607" y1="436.25" x2="610.1" y2="438.37" stroke="#0a6a2c" stroke-width="0.4"/>
<line x1="607" y1="436.25" x2="605.94" y2="439.85" stroke="#0a6a2c" stroke-width="0.4"/>
<line x1="607" y1="436.25" x2="603.25" y2="436.36" stroke="#0a6a2c" stroke-width="0.4"/>
<line x1="607" y1="436.25" x2="605.74" y2="432.72" stroke="#0a6a2c" stroke-width="0.4"/>
<line x1="607" y1="436.25" x2="609.97" y2="433.96" stroke="#0a6a2c" stroke-width="0.4"/>
<circle cx="618" cy="436.25" r="5" fill="#169845" stroke="#0a632a" stroke-width="0.7"/>
<line x1="618" y1="436.25" x2="621.1" y2="438.37" stroke="#0a6a2c" stroke-width="0.4"/>
<line x1="618" y1="436.25" x2="616.94" y2="439.85" stroke="#0a6a2c" stroke-width="0.4"/>
<line x1="618" y1="436.25" x2="614.25" y2="436.36" stroke="#0a6a2c" stroke-width="0.4"/>
<line x1="618" y1="436.25" x2="616.74" y2="432.72" stroke="#0a6a2c" stroke-width="0.4"/>
<line x1="618" y1="436.25" x2="620.97" y2="433.96" stroke="#0a6a2c" stroke-width="0.4"/>
<circle cx="628.75" cy="436.25" r="5" fill="#169845" stroke="#0a632a" stroke-width="0.7"/>
<line x1="628.75" y1="436.25" x2="631.85" y2="438.37" stroke="#0a6a2c" stroke-width="0.4"/>
<line x1="628.75" y1="436.25" x2="627.69" y2="439.85" stroke="#0a6a2c" stroke-width="0.4"/>
<line x1="628.75" y1="436.25" x2="625.0" y2="436.36" stroke="#0a6a2c" stroke-width="0.4"/>
<line x1="628.75" y1="436.25" x2="627.49" y2="432.72" stroke="#0a6a2c" stroke-width="0.4"/>
<line x1="628.75" y1="436.25" x2="631.72" y2="433.96" stroke="#0a6a2c" stroke-width="0.4"/>
<circle cx="640" cy="436.25" r="5" fill="#169845" stroke="#0a632a" stroke-width="0.7"/>
<line x1="640" y1="436.25" x2="643.1" y2="438.37" stroke="#0a6a2c" stroke-width="0.4"/>
<line x1="640" y1="436.25" x2="638.94" y2="439.85" stroke="#0a6a2c" stroke-width="0.4"/>
<line x1="640" y1="436.25" x2="636.25" y2="436.36" stroke="#0a6a2c" stroke-width="0.4"/>
<line x1="640" y1="436.25" x2="638.74" y2="432.72" stroke="#0a6a2c" stroke-width="0.4"/>
<line x1="640" y1="436.25" x2="642.97" y2="433.96" stroke="#0a6a2c" stroke-width="0.4"/>
<circle cx="650.75" cy="436.25" r="5" fill="#169845" stroke="#0a632a" stroke-width="0.7"/>
<line x1="650.75" y1="436.25" x2="653.85" y2="438.37" stroke="#0a6a2c" stroke-width="0.4"/>
<line x1="650.75" y1="436.25" x2="649.69" y2="439.85" stroke="#0a6a2c" stroke-width="0.4"/>
<line x1="650.75" y1="436.25" x2="647.0" y2="436.36" stroke="#0a6a2c" stroke-width="0.4"/>
<line x1="650.75" y1="436.25" x2="649.49" y2="432.72" stroke="#0a6a2c" stroke-width="0.4"/>
<line x1="650.75" y1="436.25" x2="653.72" y2="433.96" stroke="#0a6a2c" stroke-width="0.4"/>
<g stroke="#111" stroke-width="1.15" fill="none"><circle cx="775.6" cy="24.6" r="7.8"/><line x1="778.2" y1="6.2" x2="772.6" y2="42"/><line x1="756.5" y1="22.3" x2="794.4" y2="27.8"/></g>
<polygon points="770,31.3 778.8,32.4 772.4,43.5" fill="#111"/>
<polygon points="76,178 114,178 114,188.5 138,188.5 138,190 161.7,190 161.7,208.5 176.5,208.5 176.5,269.5 76,269.5" fill="#c8e8fa" stroke="none" stroke-width="0"/>
<rect x="180" y="215.5" width="15" height="56.5" fill="#c8e8fa" stroke="#9db7c6" stroke-width="0.5" />
<line x1="180" y1="255.3" x2="195" y2="255.3" stroke="#86a5b8" stroke-width="0.5"/>
<polygon points="209.5,215 233,215 258,242.5 258,251 254.5,251 254.5,307.5 237.5,325 215.5,325 215.5,312 229.5,312 242.5,298.75 242.5,258.75 218.75,236 209.5,236" fill="#c8e8fa" stroke="#86a5b8" stroke-width="0.6"/>
<polyline points="209.5,225 225,225 253.75,251" fill="none" stroke="#86a5b8" stroke-width="0.5" stroke-linejoin="miter" stroke-linecap="butt"/>
<rect x="212.5" y="262" width="14.5" height="32.5" fill="#c8e8fa" stroke="#86a5b8" stroke-width="0.5" />
<rect x="76" y="350.5" width="75" height="36.5" fill="#c8e8fa" stroke="none" stroke-width="0" />
<rect x="120" y="385" width="13.3" height="4.7" fill="#c8e8fa" stroke="none" stroke-width="0" />
<rect x="116" y="347.8" width="15.3" height="3" fill="#d8eefb" stroke="none" stroke-width="0" />
<rect x="122" y="471" width="69" height="38.5" fill="#c8e8fa" stroke="none" stroke-width="0" />
<rect x="172" y="468" width="21.7" height="22.5" fill="#c8e8fa" stroke="none" stroke-width="0" />
<polygon points="293.75,345 395,345 395,382.5 351,382.5 351,387 337,387 337,382.5 288,382.5 288,374 285.9,374 285.9,359.8 288,359.8 288,351" fill="#c8e8fa" stroke="none" stroke-width="0"/>
<rect x="77.2" y="183.4" width="2.6" height="9.2" fill="#dff1fb" stroke="#7d97a6" stroke-width="0.5" />
<ellipse cx="85.6" cy="188" rx="5.3" ry="4.9" fill="#dff1fb" stroke="#7d97a6" stroke-width="0.6"/>
<line x1="76.5" y1="202.3" x2="96.2" y2="217.7" stroke="#8aa4b3" stroke-width="0.5"/>
<line x1="76.5" y1="228.6" x2="95.8" y2="208.8" stroke="#8aa4b3" stroke-width="0.5"/>
<polyline points="97.4,218.8 91.6,228.7" fill="none" stroke="#7d97a6" stroke-width="0.35" stroke-linejoin="miter" stroke-linecap="butt"/>
<polyline points="96.4,218.2 90.6,228.1" fill="none" stroke="#7d97a6" stroke-width="0.35" stroke-linejoin="miter" stroke-linecap="butt"/>
<circle cx="88.7" cy="215.5" r="1.2" fill="#fff" stroke="#8aa4b3" stroke-width="0.3"/>
<ellipse cx="91.2" cy="250.4" rx="9.8" ry="18.6" fill="#d3ecfa" stroke="#8aa4b3" stroke-width="0.8" transform="rotate(-45 91.2 250.4)"/>
<polyline points="91.2,231.1 112.5,251.7 112.5,268.5" fill="none" stroke="#8aa4b3" stroke-width="0.5" stroke-linejoin="miter" stroke-linecap="butt"/>
<polyline points="112.5,256.6 154.7,256.6 164.6,247.4 164.6,209.5" fill="none" stroke="#8aa4b3" stroke-width="0.5" stroke-linejoin="miter" stroke-linecap="butt"/>
<line x1="164.6" y1="247.4" x2="176.5" y2="247.4" stroke="#8aa4b3" stroke-width="0.5"/>
<line x1="154.7" y1="256.6" x2="154.7" y2="268.5" stroke="#8aa4b3" stroke-width="0.5"/>
<ellipse cx="133" cy="263" rx="7.6" ry="4.7" fill="#d3ecfa" stroke="#8aa4b3" stroke-width="0.8"/>
<line x1="132.5" y1="266.8" x2="132.5" y2="267.8" stroke="#8aa4b3" stroke-width="0.5"/>
<ellipse cx="170.4" cy="230.5" rx="5.2" ry="7.3" fill="#d3ecfa" stroke="#8aa4b3" stroke-width="0.8"/>
<line x1="175" y1="230.5" x2="176.3" y2="230.5" stroke="#8aa4b3" stroke-width="0.5"/>
<g transform="rotate(45 231.25 238)"><rect x="227.4" y="234.2" width="7.7" height="7.7" fill="#e6f2fa" stroke="#5f7685" stroke-width="0.5"/><rect x="228.7" y="235.5" width="5.1" height="5.1" fill="none" stroke="#5f7685" stroke-width="0.3"/></g>
<rect x="242.7" y="275.5" width="11" height="14" fill="#dff1fb" stroke="#6f8796" stroke-width="0.7" />
<circle cx="245.5" cy="279" r="1.7" fill="none" stroke="#5f7685" stroke-width="0.4"/>
<circle cx="250.8" cy="279" r="1.7" fill="none" stroke="#5f7685" stroke-width="0.4"/>
<circle cx="245.5" cy="285.5" r="1.7" fill="none" stroke="#5f7685" stroke-width="0.4"/>
<circle cx="250.8" cy="285.5" r="1.7" fill="none" stroke="#5f7685" stroke-width="0.4"/>
<rect x="180.8" y="273.2" width="13.4" height="17.8" fill="#fff" stroke="#333" stroke-width="0.85" stroke-dasharray="2.2 1.4"/>
<line x1="193.9" y1="293.75" x2="193.9" y2="326" stroke="#444" stroke-width="0.5"/>
<line x1="180" y1="293.9" x2="194.3" y2="293.9" stroke="#222" stroke-width="1.4"/>
<line x1="163.6" y1="272" x2="163.6" y2="315.5" stroke="#444" stroke-width="0.5"/>
<polyline points="76.9,351.6 99.9,385.6" fill="none" stroke="#8aa4b3" stroke-width="0.5" stroke-linejoin="miter" stroke-linecap="butt"/>
<polyline points="99.9,351.6 76.9,385.6" fill="none" stroke="#8aa4b3" stroke-width="0.5" stroke-linejoin="miter" stroke-linecap="butt"/>
<circle cx="88.6" cy="368.7" r="1.3" fill="#fff" stroke="#8aa4b3" stroke-width="0.3"/>
<rect x="100.9" y="350.6" width="2.8" height="35.9" fill="#d3ecfa" stroke="#8aa4b3" stroke-width="0.4" />
<rect x="102" y="351.2" width="1.8" height="5.7" fill="#fff" stroke="#8aa4b3" stroke-width="0.4" />
<rect x="102" y="382.6" width="1.8" height="3.8" fill="#fff" stroke="#8aa4b3" stroke-width="0.4" />
<rect x="76.9" y="351.6" width="23" height="34" fill="none" stroke="#9db7c6" stroke-width="0.4" />
<rect x="106.2" y="351.2" width="8.2" height="2.8" fill="#dff1fb" stroke="#7d97a6" stroke-width="0.5" />
<ellipse cx="110.3" cy="360" rx="4.2" ry="6" fill="#dff1fb" stroke="#7d97a6" stroke-width="0.6"/>
<line x1="138.4" y1="350.5" x2="138.4" y2="387" stroke="#8aa4b3" stroke-width="0.5"/>
<ellipse cx="144.8" cy="369.8" rx="4.4" ry="6.3" fill="#d3ecfa" stroke="#8aa4b3" stroke-width="0.8"/>
<line x1="148.6" y1="369.8" x2="149.8" y2="369.8" stroke="#8aa4b3" stroke-width="0.5"/>
<rect x="143.6" y="491.4" width="13.4" height="16.6" fill="none" stroke="#333" stroke-width="0.8" stroke-dasharray="2.2 1.4"/>
<rect x="159.3" y="496.5" width="31" height="12.3" fill="none" stroke="#9db7c6" stroke-width="0.5" />
<rect x="176.5" y="498.5" width="10.7" height="9" fill="#d3ecfa" stroke="#8aa4b3" stroke-width="0.8" />
<rect x="177.8" y="499.8" width="8.1" height="6.4" fill="none" stroke="#8aa4b3" stroke-width="0.35" />
<circle cx="182" cy="503" r="0.5" fill="#7d97a6"/>
<rect x="325.2" y="349.3" width="3.2" height="10.5" fill="#dff1fb" stroke="#7d97a6" stroke-width="0.5" />
<ellipse cx="318.6" cy="354.8" rx="6.8" ry="5" fill="#dff1fb" stroke="#7d97a6" stroke-width="0.6"/>
<clipPath id="wcc"><rect x="288" y="345" width="41" height="37.5"/></clipPath><g clip-path="url(#wcc)">
<ellipse cx="322.9" cy="372.8" rx="5.6" ry="9.6" fill="#d3ecfa" stroke="#8aa4b3" stroke-width="0.7"/>
<ellipse cx="323.8" cy="372.8" rx="3.3" ry="6.6" fill="none" stroke="#8aa4b3" stroke-width="0.5"/>
</g>
<polyline points="332,356.25 360.6,356.25 360.6,345" fill="none" stroke="#8aa4b3" stroke-width="0.5" stroke-linejoin="miter" stroke-linecap="butt"/>
<ellipse cx="345.2" cy="350.4" rx="6.2" ry="4.1" fill="#d3ecfa" stroke="#8aa4b3" stroke-width="0.8"/>
<rect x="363.3" y="345" width="10.1" height="2.4" fill="#dff1fb" stroke="#7d97a6" stroke-width="0.5" />
<ellipse cx="368" cy="354.7" rx="4.8" ry="6.9" fill="#dff1fb" stroke="#7d97a6" stroke-width="0.6"/>
<line x1="378.1" y1="352.5" x2="378.1" y2="383" stroke="#8aa4b3" stroke-width="0.5"/>
<ellipse cx="386.6" cy="369" rx="6.3" ry="12.7" fill="#d3ecfa" stroke="#8aa4b3" stroke-width="0.8"/>
<line x1="169" y1="405" x2="190.5" y2="405" stroke="#3a3a3a" stroke-width="0.45"/>
<line x1="169" y1="410" x2="190.5" y2="410" stroke="#3a3a3a" stroke-width="0.45"/>
<line x1="169" y1="415" x2="190.5" y2="415" stroke="#3a3a3a" stroke-width="0.45"/>
<line x1="169" y1="420" x2="190.5" y2="420" stroke="#3a3a3a" stroke-width="0.45"/>
<line x1="169" y1="425" x2="190.5" y2="425" stroke="#3a3a3a" stroke-width="0.45"/>
<line x1="169" y1="430" x2="190.5" y2="430" stroke="#3a3a3a" stroke-width="0.45"/>
<line x1="169" y1="434.5" x2="190.5" y2="434.5" stroke="#3a3a3a" stroke-width="0.45"/>
<line x1="179.5" y1="403" x2="179.5" y2="433.5" stroke="#333" stroke-width="0.45"/>
<polygon points="178.7,431.8 180.3,431.8 179.5,434" fill="#444" stroke="none" stroke-width="0"/>
<line x1="183" y1="58.5" x2="196.5" y2="72.0" stroke="#333" stroke-width="0.4"/>
<line x1="253.75" y1="83.25" x2="276" y2="83.25" stroke="#333" stroke-width="0.4"/>
<line x1="74.25" y1="29.5" x2="74.25" y2="202.5" stroke="#000" stroke-width="3.5" stroke-linecap="butt"/>
<line x1="74.25" y1="227" x2="74.25" y2="234" stroke="#000" stroke-width="3.5" stroke-linecap="butt"/>
<line x1="74.25" y1="267.3" x2="74.25" y2="283.7" stroke="#000" stroke-width="3.5" stroke-linecap="butt"/>
<line x1="74.25" y1="301" x2="74.25" y2="320.8" stroke="#000" stroke-width="3.5" stroke-linecap="butt"/>
<line x1="74.25" y1="338.8" x2="74.25" y2="356.3" stroke="#000" stroke-width="3.5" stroke-linecap="butt"/>
<line x1="74.25" y1="374.3" x2="74.25" y2="400" stroke="#000" stroke-width="3.5" stroke-linecap="butt"/>
<line x1="74.25" y1="420" x2="74.25" y2="440.5" stroke="#000" stroke-width="3.5" stroke-linecap="butt"/>
<line x1="74.25" y1="458.6" x2="74.25" y2="471.6" stroke="#000" stroke-width="3.5" stroke-linecap="butt"/>
<line x1="72.5" y1="31" x2="90.5" y2="31" stroke="#000" stroke-width="3.2" stroke-linecap="butt"/>
<polyline points="146.5,31 155.6,31 168.75,44.25" fill="none" stroke="#000" stroke-width="3.3" stroke-linejoin="miter" stroke-linecap="butt"/>
<polyline points="196.5,72.0 207.9,83.25 215.5,83.25" fill="none" stroke="#000" stroke-width="3.4" stroke-linejoin="miter" stroke-linecap="butt"/>
<line x1="227" y1="83.25" x2="230.5" y2="83.25" stroke="#000" stroke-width="3.4" stroke-linecap="butt"/>
<line x1="278.75" y1="83.25" x2="282.5" y2="83.25" stroke="#000" stroke-width="3.4" stroke-linecap="butt"/>
<polyline points="293,83.25 298.4,83.25 303.5,88.5" fill="none" stroke="#000" stroke-width="3.5" stroke-linejoin="miter" stroke-linecap="butt"/>
<line x1="318.75" y1="103.75" x2="323" y2="108" stroke="#000" stroke-width="3.5" stroke-linecap="butt"/>
<line x1="348" y1="133" x2="352.5" y2="137.5" stroke="#000" stroke-width="3.5" stroke-linecap="butt"/>
<polyline points="368,153 376.1,161.3 376.1,175.6" fill="none" stroke="#000" stroke-width="3.6" stroke-linejoin="miter" stroke-linecap="butt"/>
<line x1="376.1" y1="191" x2="376.1" y2="204" stroke="#000" stroke-width="3.6" stroke-linecap="butt"/>
<line x1="376.1" y1="222.5" x2="376.1" y2="235" stroke="#000" stroke-width="3.6" stroke-linecap="butt"/>
<line x1="376.1" y1="250.3" x2="376.1" y2="254" stroke="#000" stroke-width="3.6" stroke-linecap="butt"/>
<rect x="357" y="253.75" width="21" height="10.75" fill="#000" stroke="none" stroke-width="0" />
<line x1="378" y1="262.25" x2="398.75" y2="262.25" stroke="#000" stroke-width="4.5" stroke-linecap="butt"/>
<line x1="396.7" y1="260" x2="396.7" y2="283.75" stroke="#000" stroke-width="3.9" stroke-linecap="butt"/>
<line x1="396.7" y1="320" x2="396.7" y2="357.8" stroke="#000" stroke-width="3.9" stroke-linecap="butt"/>
<line x1="396.7" y1="384.1" x2="396.7" y2="390.3" stroke="#000" stroke-width="3.9" stroke-linecap="butt"/>
<line x1="396.7" y1="405" x2="396.7" y2="480.6" stroke="#000" stroke-width="3.9" stroke-linecap="butt"/>
<line x1="342.2" y1="478.65" x2="365.6" y2="478.65" stroke="#000" stroke-width="3.9" stroke-linecap="butt"/>
<line x1="385" y1="478.65" x2="398.7" y2="478.65" stroke="#000" stroke-width="3.9" stroke-linecap="butt"/>
<line x1="343.8" y1="471" x2="343.8" y2="480.6" stroke="#000" stroke-width="3.2" stroke-linecap="butt"/>
<line x1="284.95" y1="473.15" x2="306.8" y2="473.15" stroke="#000" stroke-width="4.3" stroke-linecap="butt"/>
<line x1="325.1" y1="473.15" x2="345.4" y2="473.15" stroke="#000" stroke-width="4.3" stroke-linecap="butt"/>
<line x1="286.85" y1="402.6" x2="286.85" y2="475.3" stroke="#000" stroke-width="3.8" stroke-linecap="butt"/>
<line x1="281" y1="408.8" x2="288.75" y2="408.8" stroke="#000" stroke-width="4.2" stroke-linecap="butt"/>
<line x1="218" y1="408.8" x2="222.2" y2="408.8" stroke="#000" stroke-width="4.2" stroke-linecap="butt"/>
<line x1="216.5" y1="398" x2="216.5" y2="513" stroke="#000" stroke-width="4.1" stroke-linecap="butt"/>
<line x1="210.2" y1="511.6" x2="218.2" y2="511.6" stroke="#000" stroke-width="2.8" stroke-linecap="butt"/>
<line x1="119.1" y1="510.9" x2="195.5" y2="510.9" stroke="#000" stroke-width="4.2" stroke-linecap="butt"/>
<line x1="121" y1="468" x2="121" y2="513" stroke="#000" stroke-width="3.8" stroke-linecap="butt"/>
<line x1="192.05" y1="490.5" x2="192.05" y2="513" stroke="#000" stroke-width="3.3" stroke-linecap="butt"/>
<line x1="72.5" y1="469.8" x2="172.1" y2="469.8" stroke="#000" stroke-width="3.7" stroke-linecap="butt"/>
<line x1="167.65" y1="401" x2="167.65" y2="470" stroke="#000" stroke-width="2.7" stroke-linecap="butt"/>
<line x1="191.6" y1="403.8" x2="191.6" y2="471" stroke="#000" stroke-width="2.3" stroke-linecap="butt"/>
<line x1="167.5" y1="439.25" x2="192" y2="439.25" stroke="#000" stroke-width="2.5" stroke-linecap="butt"/>
<line x1="179" y1="476.1" x2="191" y2="476.1" stroke="#000" stroke-width="1.5" stroke-linecap="butt"/>
<line x1="187.1" y1="468.5" x2="187.1" y2="482" stroke="#000" stroke-width="1.6" stroke-linecap="butt"/>
<rect x="188" y="468.3" width="3.6" height="3" fill="#000" stroke="none" stroke-width="0" />
<line x1="72.5" y1="349.15" x2="116" y2="349.15" stroke="#000" stroke-width="3" stroke-linecap="butt"/>
<line x1="131.3" y1="349.15" x2="152" y2="349.15" stroke="#000" stroke-width="3" stroke-linecap="butt"/>
<line x1="116" y1="348.6" x2="131" y2="348.6" stroke="#7d9fb5" stroke-width="0.5"/>
<line x1="72.5" y1="388.2" x2="119.5" y2="388.2" stroke="#000" stroke-width="2.9" stroke-linecap="butt"/>
<line x1="133.3" y1="388.2" x2="153.8" y2="388.2" stroke="#000" stroke-width="2.9" stroke-linecap="butt"/>
<line x1="152.3" y1="347.7" x2="152.3" y2="389.6" stroke="#000" stroke-width="2.8" stroke-linecap="butt"/>
<line x1="119.05" y1="375.4" x2="119.05" y2="389.6" stroke="#000" stroke-width="1.9" stroke-linecap="butt"/>
<polyline points="151.6,349.8 158,343.4" fill="none" stroke="#000" stroke-width="3" stroke-linejoin="miter" stroke-linecap="butt"/>
<polyline points="152.5,389 155.5,391.5" fill="none" stroke="#000" stroke-width="2.5" stroke-linejoin="miter" stroke-linecap="butt"/>
<polyline points="150.6,420 166.6,400.2" fill="none" stroke="#000" stroke-width="3" stroke-linejoin="miter" stroke-linecap="butt"/>
<line x1="150.5" y1="419" x2="150.5" y2="467.5" stroke="#444" stroke-width="0.5"/>
<line x1="72.5" y1="271" x2="180" y2="271" stroke="#000" stroke-width="3.7" stroke-linecap="butt"/>
<line x1="178.25" y1="112.5" x2="178.25" y2="320.5" stroke="#000" stroke-width="3.5" stroke-linecap="butt"/>
<line x1="76" y1="136.75" x2="115.5" y2="136.75" stroke="#000" stroke-width="3" stroke-linecap="butt"/>
<line x1="114.4" y1="135.25" x2="114.4" y2="143.5" stroke="#000" stroke-width="3" stroke-linecap="butt"/>
<line x1="114.25" y1="143.5" x2="114.25" y2="161" stroke="#444" stroke-width="0.4"/>
<line x1="114.4" y1="161" x2="114.4" y2="196.8" stroke="#000" stroke-width="3.2" stroke-linecap="butt"/>
<line x1="76" y1="176.5" x2="115.5" y2="176.5" stroke="#000" stroke-width="3" stroke-linecap="butt"/>
<line x1="136.25" y1="148.75" x2="178" y2="148.75" stroke="#000" stroke-width="2.6" stroke-linecap="butt"/>
<line x1="138.2" y1="147.5" x2="138.2" y2="155" stroke="#000" stroke-width="3.2" stroke-linecap="butt"/>
<line x1="138.2" y1="155" x2="138.2" y2="172.5" stroke="#444" stroke-width="0.4"/>
<line x1="138.2" y1="172.5" x2="138.2" y2="190" stroke="#000" stroke-width="3.2" stroke-linecap="butt"/>
<line x1="136.25" y1="188.5" x2="178" y2="188.5" stroke="#000" stroke-width="3" stroke-linecap="butt"/>
<line x1="118.3" y1="188.6" x2="136.3" y2="188.6" stroke="#567" stroke-width="0.4"/>
<polygon points="118.3,188.6 120.3,187.8 120.3,189.4" fill="#333" stroke="none" stroke-width="0"/>
<line x1="161" y1="208.1" x2="177" y2="208.1" stroke="#000" stroke-width="3" stroke-linecap="butt"/>
<polyline points="76,200 88.6,200 99.9,217" fill="none" stroke="#000" stroke-width="3.2" stroke-linejoin="miter" stroke-linecap="butt"/>
<polyline points="95.8,206.8 99.4,205.2" fill="none" stroke="#000" stroke-width="2.4" stroke-linejoin="miter" stroke-linecap="butt"/>
<polyline points="114.6,195.5 112.1,198.9 104.9,186.9" fill="none" stroke="#000" stroke-width="2.7" stroke-linejoin="miter" stroke-linecap="butt"/>
<path d="M104.7,186.7 A14,14 0 0 0 98.5,205.3" fill="none" stroke="#444" stroke-width="0.5"/>
<line x1="89.2" y1="230.5" x2="92.3" y2="230.5" stroke="#000" stroke-width="2.8" stroke-linecap="butt"/>
<polyline points="163.5,315.3 173.7,325.6" fill="none" stroke="#000" stroke-width="3" stroke-linejoin="miter" stroke-linecap="butt"/>
<polyline points="178.8,320 168.7,332.5" fill="none" stroke="#000" stroke-width="3" stroke-linejoin="miter" stroke-linecap="butt"/>
<polyline points="168.7,332.8 159.2,323.3" fill="none" stroke="#000" stroke-width="1.8" stroke-linejoin="miter" stroke-linecap="butt"/>
<path d="M159.2,323.3 A13.3,13.3 0 0 0 157.3,343" fill="none" stroke="#444" stroke-width="0.5"/>
<polyline points="180,318.5 190.8,326.2 195.8,326.2" fill="none" stroke="#000" stroke-width="2.8" stroke-linejoin="miter" stroke-linecap="butt"/>
<polyline points="256.25,251 256.25,308.2 238.3,326.2 213,326.2" fill="none" stroke="#000" stroke-width="3.3" stroke-linejoin="miter" stroke-linecap="butt"/>
<line x1="217.75" y1="325" x2="217.75" y2="336.5" stroke="#000" stroke-width="4.5" stroke-linecap="butt"/>
<polyline points="395,343.5 294.3,343.5 287,352" fill="none" stroke="#000" stroke-width="3.2" stroke-linejoin="miter" stroke-linecap="butt"/>
<line x1="287.15" y1="350.5" x2="287.15" y2="359.8" stroke="#000" stroke-width="2.5" stroke-linecap="butt"/>
<line x1="287.15" y1="374" x2="287.15" y2="386.25" stroke="#000" stroke-width="2.5" stroke-linecap="butt"/>
<line x1="285.75" y1="385.3" x2="336.7" y2="385.3" stroke="#000" stroke-width="3.5" stroke-linecap="butt"/>
<line x1="351" y1="385.3" x2="395" y2="385.3" stroke="#000" stroke-width="3.5" stroke-linecap="butt"/>
<line x1="330.8" y1="342" x2="330.8" y2="387" stroke="#000" stroke-width="3.2" stroke-linecap="butt"/>
<rect x="378.1" y="341.9" width="20.2" height="10.6" fill="#000" stroke="none" stroke-width="0" />
<line x1="336.4" y1="372.7" x2="336.4" y2="387" stroke="#000" stroke-width="1.7" stroke-linecap="butt"/>
<path d="M337.2,372.7 A13.5,13.5 0 0 1 351,384.4" fill="none" stroke="#444" stroke-width="0.5"/>
<line x1="285.9" y1="374.9" x2="299.8" y2="374.9" stroke="#000" stroke-width="1.9" stroke-linecap="butt"/>
<path d="M299.8,374 A13.6,13.6 0 0 0 288.4,360.4" fill="none" stroke="#444" stroke-width="0.5"/>
<line x1="285.9" y1="403.6" x2="300.4" y2="403.6" stroke="#000" stroke-width="2" stroke-linecap="butt"/>
<path d="M300.4,402.6 A14.2,14.2 0 0 0 288.4,387.5" fill="none" stroke="#444" stroke-width="0.5"/>
<polyline points="287.8,407.3 301.5,422.2" fill="none" stroke="#000" stroke-width="3" stroke-linejoin="miter" stroke-linecap="butt"/>
<line x1="301.25" y1="422" x2="301.25" y2="471.5" stroke="#444" stroke-width="0.5"/>
<line x1="234.6" y1="394.4" x2="234.6" y2="410.9" stroke="#000" stroke-width="1.2" stroke-linecap="butt"/>
<line x1="268.7" y1="394.4" x2="268.7" y2="410.9" stroke="#000" stroke-width="1.2" stroke-linecap="butt"/>
<path d="M234.6,394.4 A16.8,16.8 0 0 1 251.65,410.6" fill="none" stroke="#444" stroke-width="0.5"/>
<path d="M268.7,394.4 A16.8,16.8 0 0 0 251.65,410.6" fill="none" stroke="#444" stroke-width="0.5"/>
<line x1="211.2" y1="499.2" x2="211.2" y2="510.5" stroke="#000" stroke-width="1.2" stroke-linecap="butt"/>
<path d="M211.2,499.2 A13.5,13.5 0 0 0 196.2,509" fill="none" stroke="#444" stroke-width="0.5"/>
<path d="M120,375.8 A12.5,12.5 0 0 1 133,387.5" fill="none" stroke="#444" stroke-width="0.5"/>
<path d="M153.5,391.5 A13.5,13.5 0 0 0 156,410.5" fill="none" stroke="#444" stroke-width="0.5"/>
<path d="M172.1,470.8 A20.6,20.6 0 0 0 192.7,489.8" fill="none" stroke="#444" stroke-width="0.5"/>
<polyline points="192.8,79.2 202.75,89.1 206.7,84" fill="none" stroke="#000" stroke-width="1.9" stroke-linejoin="miter" stroke-linecap="butt"/>
<polyline points="171.8,100.3 181,110.2 178.4,112.3" fill="none" stroke="#000" stroke-width="1.9" stroke-linejoin="miter" stroke-linecap="butt"/>
<path d="M192.8,79.2 A14,14 0 0 0 192.3,99.3" fill="none" stroke="#444" stroke-width="0.5"/>
<path d="M171.8,100.3 A14,14 0 0 1 191.2,100" fill="none" stroke="#444" stroke-width="0.5"/>
<rect x="502.3" y="217.3" width="9.3" height="62.3" fill="#000" stroke="none" stroke-width="0" />
<line x1="502.3" y1="219.3" x2="537.2" y2="219.3" stroke="#000" stroke-width="4" stroke-linecap="butt"/>
<line x1="535.45" y1="217" x2="535.45" y2="283.3" stroke="#000" stroke-width="3.1" stroke-linecap="butt"/>
<line x1="511.25" y1="223.3" x2="533.75" y2="223.3" stroke="#3a3a3a" stroke-width="0.45"/>
<line x1="511.25" y1="231" x2="533.75" y2="231" stroke="#3a3a3a" stroke-width="0.45"/>
<line x1="511.25" y1="238.3" x2="533.75" y2="238.3" stroke="#3a3a3a" stroke-width="0.45"/>
<line x1="511.25" y1="246.1" x2="533.75" y2="246.1" stroke="#3a3a3a" stroke-width="0.45"/>
<line x1="511.25" y1="254.1" x2="533.75" y2="254.1" stroke="#3a3a3a" stroke-width="0.45"/>
<line x1="511.25" y1="261.5" x2="533.75" y2="261.5" stroke="#3a3a3a" stroke-width="0.45"/>
<line x1="511.25" y1="269.5" x2="533.75" y2="269.5" stroke="#3a3a3a" stroke-width="0.45"/>
<line x1="511.25" y1="277.1" x2="533.75" y2="277.1" stroke="#3a3a3a" stroke-width="0.45"/>
<line x1="522.5" y1="223.5" x2="522.5" y2="277" stroke="#3a3a3a" stroke-width="0.45"/>
<rect x="522" y="224.3" width="1" height="1.2" fill="#222" stroke="none" stroke-width="0" />
<line x1="479.1" y1="277.9" x2="511.25" y2="277.9" stroke="#000" stroke-width="3.8" stroke-linecap="butt"/>
<line x1="480.95" y1="276" x2="480.95" y2="293.6" stroke="#000" stroke-width="3.7" stroke-linecap="butt"/>
<line x1="448.25" y1="291.85" x2="482.8" y2="291.85" stroke="#000" stroke-width="3.6" stroke-linecap="butt"/>
<line x1="450" y1="290" x2="450" y2="358.75" stroke="#000" stroke-width="3.7" stroke-linecap="butt"/>
<line x1="450" y1="384.5" x2="450" y2="477" stroke="#000" stroke-width="3.7" stroke-linecap="butt"/>
<line x1="414.25" y1="356.9" x2="451.75" y2="356.9" stroke="#000" stroke-width="3.75" stroke-linecap="butt"/>
<line x1="414.25" y1="386.25" x2="451.75" y2="386.25" stroke="#000" stroke-width="3.5" stroke-linecap="butt"/>
<line x1="416.1" y1="355" x2="416.1" y2="360" stroke="#000" stroke-width="3.75" stroke-linecap="butt"/>
<line x1="416.1" y1="382.5" x2="416.1" y2="388" stroke="#000" stroke-width="3.75" stroke-linecap="butt"/>
<line x1="527.1" y1="305" x2="527.1" y2="477" stroke="#000" stroke-width="3.6" stroke-linecap="butt"/>
<line x1="503.5" y1="304.5" x2="537" y2="304.5" stroke="#000" stroke-width="3.1" stroke-linecap="butt"/>
<line x1="504.8" y1="298" x2="504.8" y2="306" stroke="#000" stroke-width="2.6" stroke-linecap="butt"/>
<line x1="535.45" y1="297.2" x2="535.45" y2="306" stroke="#000" stroke-width="3.1" stroke-linecap="butt"/>
<line x1="504.8" y1="279" x2="504.8" y2="284" stroke="#000" stroke-width="2.6" stroke-linecap="butt"/>
<line x1="491.7" y1="283.3" x2="506" y2="283.3" stroke="#000" stroke-width="1.4" stroke-linecap="butt"/>
<path d="M491.7,283.75 A13.6,13.6 0 0 0 504.7,298" fill="none" stroke="#444" stroke-width="0.5"/>
<line x1="522.5" y1="297.85" x2="534" y2="297.85" stroke="#000" stroke-width="1.4" stroke-linecap="butt"/>
<path d="M522.5,297.8 A13.8,13.8 0 0 1 534.7,283.75" fill="none" stroke="#444" stroke-width="0.5"/>
<line x1="448.25" y1="442.9" x2="478" y2="442.9" stroke="#000" stroke-width="3.25" stroke-linecap="butt"/>
<line x1="493" y1="442.9" x2="528.75" y2="442.9" stroke="#000" stroke-width="3.25" stroke-linecap="butt"/>
<line x1="494" y1="444.5" x2="494" y2="454.5" stroke="#000" stroke-width="2" stroke-linecap="butt"/>
<path d="M480.5,441.5 A13.5,13.5 0 0 0 494,454.5" fill="none" stroke="#444" stroke-width="0.5"/>
<line x1="448.25" y1="475.1" x2="528.75" y2="475.1" stroke="#000" stroke-width="3.9" stroke-linecap="butt"/>
</g>
<g>
<rect x="70.8" y="202.5" width="5.4" height="24.5" fill="#fff"/>
<line x1="71.3" y1="202.5" x2="71.3" y2="227" stroke="#a2a2a2" stroke-width="0.9"/>
<line x1="73.5" y1="202.5" x2="73.5" y2="227" stroke="#a2a2a2" stroke-width="0.9"/>
<line x1="75.7" y1="202.5" x2="75.7" y2="227" stroke="#a2a2a2" stroke-width="0.9"/>
<line x1="70.8" y1="202.5" x2="76.2" y2="202.5" stroke="#a2a2a2" stroke-width="0.6"/><line x1="70.8" y1="227" x2="76.2" y2="227" stroke="#a2a2a2" stroke-width="0.6"/>
<rect x="70.8" y="234" width="5.4" height="33.3" fill="#fff"/>
<line x1="71.3" y1="234" x2="71.3" y2="267.3" stroke="#a2a2a2" stroke-width="0.9"/>
<line x1="73.5" y1="234" x2="73.5" y2="267.3" stroke="#a2a2a2" stroke-width="0.9"/>
<line x1="75.7" y1="234" x2="75.7" y2="267.3" stroke="#a2a2a2" stroke-width="0.9"/>
<line x1="70.8" y1="234" x2="76.2" y2="234" stroke="#a2a2a2" stroke-width="0.6"/><line x1="70.8" y1="267.3" x2="76.2" y2="267.3" stroke="#a2a2a2" stroke-width="0.6"/>
<rect x="70.8" y="283.7" width="5.4" height="17.3" fill="#fff"/>
<line x1="71.3" y1="283.7" x2="71.3" y2="301" stroke="#a2a2a2" stroke-width="0.9"/>
<line x1="73.5" y1="283.7" x2="73.5" y2="301" stroke="#a2a2a2" stroke-width="0.9"/>
<line x1="75.7" y1="283.7" x2="75.7" y2="301" stroke="#a2a2a2" stroke-width="0.9"/>
<line x1="70.8" y1="283.7" x2="76.2" y2="283.7" stroke="#a2a2a2" stroke-width="0.6"/><line x1="70.8" y1="301" x2="76.2" y2="301" stroke="#a2a2a2" stroke-width="0.6"/>
<rect x="70.8" y="320.8" width="5.4" height="18.0" fill="#fff"/>
<line x1="71.3" y1="320.8" x2="71.3" y2="338.8" stroke="#a2a2a2" stroke-width="0.9"/>
<line x1="73.5" y1="320.8" x2="73.5" y2="338.8" stroke="#a2a2a2" stroke-width="0.9"/>
<line x1="75.7" y1="320.8" x2="75.7" y2="338.8" stroke="#a2a2a2" stroke-width="0.9"/>
<line x1="70.8" y1="320.8" x2="76.2" y2="320.8" stroke="#a2a2a2" stroke-width="0.6"/><line x1="70.8" y1="338.8" x2="76.2" y2="338.8" stroke="#a2a2a2" stroke-width="0.6"/>
<rect x="70.8" y="356.3" width="5.4" height="18.0" fill="#fff"/>
<line x1="71.3" y1="356.3" x2="71.3" y2="374.3" stroke="#a2a2a2" stroke-width="0.9"/>
<line x1="73.5" y1="356.3" x2="73.5" y2="374.3" stroke="#a2a2a2" stroke-width="0.9"/>
<line x1="75.7" y1="356.3" x2="75.7" y2="374.3" stroke="#a2a2a2" stroke-width="0.9"/>
<line x1="70.8" y1="356.3" x2="76.2" y2="356.3" stroke="#a2a2a2" stroke-width="0.6"/><line x1="70.8" y1="374.3" x2="76.2" y2="374.3" stroke="#a2a2a2" stroke-width="0.6"/>
<rect x="70.8" y="400" width="5.4" height="20" fill="#fff"/>
<line x1="71.3" y1="400" x2="71.3" y2="420" stroke="#a2a2a2" stroke-width="0.9"/>
<line x1="73.5" y1="400" x2="73.5" y2="420" stroke="#a2a2a2" stroke-width="0.9"/>
<line x1="75.7" y1="400" x2="75.7" y2="420" stroke="#a2a2a2" stroke-width="0.9"/>
<line x1="70.8" y1="400" x2="76.2" y2="400" stroke="#a2a2a2" stroke-width="0.6"/><line x1="70.8" y1="420" x2="76.2" y2="420" stroke="#a2a2a2" stroke-width="0.6"/>
<rect x="70.8" y="440.5" width="5.4" height="18.1" fill="#fff"/>
<line x1="71.3" y1="440.5" x2="71.3" y2="458.6" stroke="#a2a2a2" stroke-width="0.9"/>
<line x1="73.5" y1="440.5" x2="73.5" y2="458.6" stroke="#a2a2a2" stroke-width="0.9"/>
<line x1="75.7" y1="440.5" x2="75.7" y2="458.6" stroke="#a2a2a2" stroke-width="0.9"/>
<line x1="70.8" y1="440.5" x2="76.2" y2="440.5" stroke="#a2a2a2" stroke-width="0.6"/><line x1="70.8" y1="458.6" x2="76.2" y2="458.6" stroke="#a2a2a2" stroke-width="0.6"/>
<rect x="90.5" y="28.5" width="56.0" height="5.4" fill="#fff"/>
<line x1="90.5" y1="29.0" x2="146.5" y2="29.0" stroke="#a2a2a2" stroke-width="0.9"/>
<line x1="90.5" y1="31.2" x2="146.5" y2="31.2" stroke="#a2a2a2" stroke-width="0.9"/>
<line x1="90.5" y1="33.4" x2="146.5" y2="33.4" stroke="#a2a2a2" stroke-width="0.9"/>
<line x1="109.2" y1="28.5" x2="109.2" y2="33.9" stroke="#777" stroke-width="0.7"/>
<line x1="127.8" y1="28.5" x2="127.8" y2="33.9" stroke="#777" stroke-width="0.7"/>
<line x1="90.5" y1="28.5" x2="90.5" y2="33.9" stroke="#a2a2a2" stroke-width="0.6"/><line x1="146.5" y1="28.5" x2="146.5" y2="33.9" stroke="#a2a2a2" stroke-width="0.6"/>
<polygon points="167.16,45.84 181.41,60.09 184.59,56.91 170.34,42.66" fill="#fff" stroke="#8f8f8f" stroke-width="0.7"/>
<line x1="168.75" y1="44.25" x2="183" y2="58.5" stroke="#8f8f8f" stroke-width="0.6"/>
<rect x="215.5" y="80.55" width="11.5" height="5.4" fill="#fff"/>
<line x1="215.5" y1="81.05" x2="227" y2="81.05" stroke="#a2a2a2" stroke-width="0.9"/>
<line x1="215.5" y1="83.25" x2="227" y2="83.25" stroke="#a2a2a2" stroke-width="0.9"/>
<line x1="215.5" y1="85.45" x2="227" y2="85.45" stroke="#a2a2a2" stroke-width="0.9"/>
<line x1="215.5" y1="80.55" x2="215.5" y2="85.95" stroke="#a2a2a2" stroke-width="0.6"/><line x1="227" y1="80.55" x2="227" y2="85.95" stroke="#a2a2a2" stroke-width="0.6"/>
<rect x="230.5" y="80.55" width="23.25" height="5.4" fill="#fff"/>
<line x1="230.5" y1="81.05" x2="253.75" y2="81.05" stroke="#a2a2a2" stroke-width="0.9"/>
<line x1="230.5" y1="83.25" x2="253.75" y2="83.25" stroke="#a2a2a2" stroke-width="0.9"/>
<line x1="230.5" y1="85.45" x2="253.75" y2="85.45" stroke="#a2a2a2" stroke-width="0.9"/>
<line x1="230.5" y1="80.55" x2="230.5" y2="85.95" stroke="#a2a2a2" stroke-width="0.6"/><line x1="253.75" y1="80.55" x2="253.75" y2="85.95" stroke="#a2a2a2" stroke-width="0.6"/>
<rect x="282.5" y="80.55" width="10.5" height="5.4" fill="#fff"/>
<line x1="282.5" y1="81.05" x2="293" y2="81.05" stroke="#a2a2a2" stroke-width="0.9"/>
<line x1="282.5" y1="83.25" x2="293" y2="83.25" stroke="#a2a2a2" stroke-width="0.9"/>
<line x1="282.5" y1="85.45" x2="293" y2="85.45" stroke="#a2a2a2" stroke-width="0.9"/>
<line x1="282.5" y1="80.55" x2="282.5" y2="85.95" stroke="#a2a2a2" stroke-width="0.6"/><line x1="293" y1="80.55" x2="293" y2="85.95" stroke="#a2a2a2" stroke-width="0.6"/>
<polygon points="301.87,90.13 317.12,105.38 320.38,102.12 305.13,86.87" fill="#fff" stroke="#8f8f8f" stroke-width="0.7"/>
<line x1="303.5" y1="88.5" x2="318.75" y2="103.75" stroke="#8f8f8f" stroke-width="0.6"/>
<polygon points="321.37,109.63 346.37,134.63 349.63,131.37 324.63,106.37" fill="#fff" stroke="#8f8f8f" stroke-width="0.7"/>
<line x1="323" y1="108" x2="348" y2="133" stroke="#8f8f8f" stroke-width="0.6"/>
<polygon points="350.87,139.13 366.37,154.63 369.63,151.37 354.13,135.87" fill="#fff" stroke="#8f8f8f" stroke-width="0.7"/>
<line x1="352.5" y1="137.5" x2="368" y2="153" stroke="#8f8f8f" stroke-width="0.6"/>
<rect x="373.4" y="175.6" width="5.4" height="15.4" fill="#fff"/>
<line x1="373.9" y1="175.6" x2="373.9" y2="191" stroke="#a2a2a2" stroke-width="0.9"/>
<line x1="376.1" y1="175.6" x2="376.1" y2="191" stroke="#a2a2a2" stroke-width="0.9"/>
<line x1="378.3" y1="175.6" x2="378.3" y2="191" stroke="#a2a2a2" stroke-width="0.9"/>
<line x1="373.4" y1="175.6" x2="378.8" y2="175.6" stroke="#a2a2a2" stroke-width="0.6"/><line x1="373.4" y1="191" x2="378.8" y2="191" stroke="#a2a2a2" stroke-width="0.6"/>
<rect x="373.4" y="204" width="5.4" height="18.5" fill="#fff"/>
<line x1="373.9" y1="204" x2="373.9" y2="222.5" stroke="#a2a2a2" stroke-width="0.9"/>
<line x1="376.1" y1="204" x2="376.1" y2="222.5" stroke="#a2a2a2" stroke-width="0.9"/>
<line x1="378.3" y1="204" x2="378.3" y2="222.5" stroke="#a2a2a2" stroke-width="0.9"/>
<line x1="373.4" y1="204" x2="378.8" y2="204" stroke="#a2a2a2" stroke-width="0.6"/><line x1="373.4" y1="222.5" x2="378.8" y2="222.5" stroke="#a2a2a2" stroke-width="0.6"/>
<rect x="373.4" y="235" width="5.4" height="15.3" fill="#fff"/>
<line x1="373.9" y1="235" x2="373.9" y2="250.3" stroke="#a2a2a2" stroke-width="0.9"/>
<line x1="376.1" y1="235" x2="376.1" y2="250.3" stroke="#a2a2a2" stroke-width="0.9"/>
<line x1="378.3" y1="235" x2="378.3" y2="250.3" stroke="#a2a2a2" stroke-width="0.9"/>
<line x1="373.4" y1="235" x2="378.8" y2="235" stroke="#a2a2a2" stroke-width="0.6"/><line x1="373.4" y1="250.3" x2="378.8" y2="250.3" stroke="#a2a2a2" stroke-width="0.6"/>
<rect x="394.0" y="283.75" width="5.4" height="36.25" fill="#fff"/>
<line x1="394.5" y1="283.75" x2="394.5" y2="320" stroke="#a2a2a2" stroke-width="0.9"/>
<line x1="396.7" y1="283.75" x2="396.7" y2="320" stroke="#a2a2a2" stroke-width="0.9"/>
<line x1="398.9" y1="283.75" x2="398.9" y2="320" stroke="#a2a2a2" stroke-width="0.9"/>
<line x1="394.0" y1="301.75" x2="399.4" y2="301.75" stroke="#777" stroke-width="0.7"/>
<line x1="394.0" y1="283.75" x2="399.4" y2="283.75" stroke="#a2a2a2" stroke-width="0.6"/><line x1="394.0" y1="320" x2="399.4" y2="320" stroke="#a2a2a2" stroke-width="0.6"/>
<rect x="394.0" y="357.8" width="5.4" height="26.3" fill="#fff"/>
<line x1="394.5" y1="357.8" x2="394.5" y2="384.1" stroke="#a2a2a2" stroke-width="0.9"/>
<line x1="396.7" y1="357.8" x2="396.7" y2="384.1" stroke="#a2a2a2" stroke-width="0.9"/>
<line x1="398.9" y1="357.8" x2="398.9" y2="384.1" stroke="#a2a2a2" stroke-width="0.9"/>
<line x1="394.0" y1="357.8" x2="399.4" y2="357.8" stroke="#a2a2a2" stroke-width="0.6"/><line x1="394.0" y1="384.1" x2="399.4" y2="384.1" stroke="#a2a2a2" stroke-width="0.6"/>
<rect x="394.0" y="390.3" width="5.4" height="14.7" fill="#fff"/>
<line x1="394.5" y1="390.3" x2="394.5" y2="405" stroke="#a2a2a2" stroke-width="0.9"/>
<line x1="396.7" y1="390.3" x2="396.7" y2="405" stroke="#a2a2a2" stroke-width="0.9"/>
<line x1="398.9" y1="390.3" x2="398.9" y2="405" stroke="#a2a2a2" stroke-width="0.9"/>
<line x1="394.0" y1="390.3" x2="399.4" y2="390.3" stroke="#a2a2a2" stroke-width="0.6"/><line x1="394.0" y1="405" x2="399.4" y2="405" stroke="#a2a2a2" stroke-width="0.6"/>
<rect x="365.6" y="476.2" width="19.4" height="5.4" fill="#fff"/>
<line x1="365.6" y1="476.7" x2="385" y2="476.7" stroke="#a2a2a2" stroke-width="0.9"/>
<line x1="365.6" y1="478.9" x2="385" y2="478.9" stroke="#a2a2a2" stroke-width="0.9"/>
<line x1="365.6" y1="481.1" x2="385" y2="481.1" stroke="#a2a2a2" stroke-width="0.9"/>
<line x1="365.6" y1="476.2" x2="365.6" y2="481.6" stroke="#a2a2a2" stroke-width="0.6"/><line x1="385" y1="476.2" x2="385" y2="481.6" stroke="#a2a2a2" stroke-width="0.6"/>
<rect x="306.8" y="470.8" width="18.3" height="5.4" fill="#fff"/>
<line x1="306.8" y1="471.3" x2="325.1" y2="471.3" stroke="#a2a2a2" stroke-width="0.9"/>
<line x1="306.8" y1="473.5" x2="325.1" y2="473.5" stroke="#a2a2a2" stroke-width="0.9"/>
<line x1="306.8" y1="475.7" x2="325.1" y2="475.7" stroke="#a2a2a2" stroke-width="0.9"/>
<line x1="306.8" y1="470.8" x2="306.8" y2="476.2" stroke="#a2a2a2" stroke-width="0.6"/><line x1="325.1" y1="470.8" x2="325.1" y2="476.2" stroke="#a2a2a2" stroke-width="0.6"/>
<rect x="269.4" y="406.0" width="11.6" height="5.4" fill="#fff"/>
<line x1="269.4" y1="406.5" x2="281" y2="406.5" stroke="#a2a2a2" stroke-width="0.9"/>
<line x1="269.4" y1="408.7" x2="281" y2="408.7" stroke="#a2a2a2" stroke-width="0.9"/>
<line x1="269.4" y1="410.9" x2="281" y2="410.9" stroke="#a2a2a2" stroke-width="0.9"/>
<line x1="269.4" y1="406.0" x2="269.4" y2="411.4" stroke="#a2a2a2" stroke-width="0.6"/><line x1="281" y1="406.0" x2="281" y2="411.4" stroke="#a2a2a2" stroke-width="0.6"/>
<rect x="222.2" y="406.0" width="11.7" height="5.4" fill="#fff"/>
<line x1="222.2" y1="406.5" x2="233.9" y2="406.5" stroke="#a2a2a2" stroke-width="0.9"/>
<line x1="222.2" y1="408.7" x2="233.9" y2="408.7" stroke="#a2a2a2" stroke-width="0.9"/>
<line x1="222.2" y1="410.9" x2="233.9" y2="410.9" stroke="#a2a2a2" stroke-width="0.9"/>
<line x1="222.2" y1="406.0" x2="222.2" y2="411.4" stroke="#a2a2a2" stroke-width="0.6"/><line x1="233.9" y1="406.0" x2="233.9" y2="411.4" stroke="#a2a2a2" stroke-width="0.6"/>
<rect x="76" y="228.9" width="13.2" height="3.2" fill="#fff"/>
<line x1="76" y1="229.4" x2="89.2" y2="229.4" stroke="#a2a2a2" stroke-width="0.9"/>
<line x1="76" y1="230.5" x2="89.2" y2="230.5" stroke="#a2a2a2" stroke-width="0.9"/>
<line x1="76" y1="231.6" x2="89.2" y2="231.6" stroke="#a2a2a2" stroke-width="0.9"/>
<line x1="76" y1="228.9" x2="76" y2="232.1" stroke="#a2a2a2" stroke-width="0.6"/><line x1="89.2" y1="228.9" x2="89.2" y2="232.1" stroke="#a2a2a2" stroke-width="0.6"/>
<rect x="413.4" y="360" width="5.4" height="22.5" fill="#fff"/>
<line x1="413.9" y1="360" x2="413.9" y2="382.5" stroke="#a2a2a2" stroke-width="0.9"/>
<line x1="416.1" y1="360" x2="416.1" y2="382.5" stroke="#a2a2a2" stroke-width="0.9"/>
<line x1="418.3" y1="360" x2="418.3" y2="382.5" stroke="#a2a2a2" stroke-width="0.9"/>
<line x1="413.4" y1="360" x2="418.8" y2="360" stroke="#a2a2a2" stroke-width="0.6"/><line x1="413.4" y1="382.5" x2="418.8" y2="382.5" stroke="#a2a2a2" stroke-width="0.6"/>
</g>
<g filter="url(#bl)">
<text x="129.5" y="79.15" font-size="6.9" text-anchor="middle" textLength="24.5" lengthAdjust="spacingAndGlyphs" fill="#1c1c1c" stroke="#1c1c1c" stroke-width="0.18" font-weight="normal">PRIMARY</text>
<text x="130" y="87.15" font-size="6.9" text-anchor="middle" textLength="29" lengthAdjust="spacingAndGlyphs" fill="#1c1c1c" stroke="#1c1c1c" stroke-width="0.18" font-weight="normal">BEDROOM</text>
<text x="130" y="95.4" font-size="6.9" text-anchor="middle" textLength="33" lengthAdjust="spacingAndGlyphs" fill="#1c1c1c" stroke="#1c1c1c" stroke-width="0.18" font-weight="normal">21&#39;7&quot; x 19&#39;0&quot;</text>
<text x="93.75" y="160.15" font-size="6.9" text-anchor="middle" textLength="11" lengthAdjust="spacingAndGlyphs" fill="#1c1c1c" stroke="#1c1c1c" stroke-width="0.18" font-weight="normal">WIC</text>
<text x="157.5" y="172.15" font-size="6.9" text-anchor="middle" textLength="11" lengthAdjust="spacingAndGlyphs" fill="#1c1c1c" stroke="#1c1c1c" stroke-width="0.18" font-weight="normal">WIC</text>
<text x="168.75" y="199.15" font-size="6.9" text-anchor="middle" textLength="7" lengthAdjust="spacingAndGlyphs" fill="#1c1c1c" stroke="#1c1c1c" stroke-width="0.18" font-weight="normal">CL</text>
<text x="133" y="228.4" font-size="6.9" text-anchor="middle" textLength="10.75" lengthAdjust="spacingAndGlyphs" fill="#1c1c1c" stroke="#1c1c1c" stroke-width="0.18" font-weight="normal">ENS</text>
<text x="132.5" y="236.15" font-size="6.9" text-anchor="middle" textLength="37.5" lengthAdjust="spacingAndGlyphs" fill="#1c1c1c" stroke="#1c1c1c" stroke-width="0.18" font-weight="normal">16&#39;10&quot; x 13&#39;1&quot;</text>
<text x="212" y="249.9" font-size="6.9" text-anchor="middle" textLength="24.25" lengthAdjust="spacingAndGlyphs" fill="#1c1c1c" stroke="#1c1c1c" stroke-width="0.18" font-weight="normal">KITCHEN</text>
<text x="213" y="257.9" font-size="6.9" text-anchor="middle" textLength="33.25" lengthAdjust="spacingAndGlyphs" fill="#1c1c1c" stroke="#1c1c1c" stroke-width="0.18" font-weight="normal">12&#39;6&quot; x 18&#39;2&quot;</text>
<text x="187.5" y="266.15" font-size="6.9" text-anchor="middle" textLength="8.5" lengthAdjust="spacingAndGlyphs" fill="#1c1c1c" stroke="#1c1c1c" stroke-width="0.18" font-weight="normal">OV</text>
<text x="239.25" y="248.65" font-size="7.5" text-anchor="middle" textLength="10.25" lengthAdjust="spacingAndGlyphs" fill="#1c1c1c" stroke="#1c1c1c" stroke-width="0.18" font-weight="normal">DW</text>
<text x="186.75" y="284.9" font-size="6.9" text-anchor="middle" textLength="3" lengthAdjust="spacingAndGlyphs" fill="#1c1c1c" stroke="#1c1c1c" stroke-width="0.18" font-weight="normal">F</text>
<text transform="translate(170,295) rotate(-90)" x="0" y="2.484" font-size="6.9" text-anchor="middle" textLength="21" lengthAdjust="spacingAndGlyphs" fill="#1c1c1c" stroke="#1c1c1c" stroke-width="0.18">CLOSET</text>
<text transform="translate(186.75,303.75) rotate(-90)" x="0" y="2.484" font-size="6.9" text-anchor="middle" textLength="14.25" lengthAdjust="spacingAndGlyphs" fill="#1c1c1c" stroke="#1c1c1c" stroke-width="0.18">P&#39;TRY</text>
<text x="122.5" y="310.4" font-size="6.9" text-anchor="middle" textLength="29" lengthAdjust="spacingAndGlyphs" fill="#1c1c1c" stroke="#1c1c1c" stroke-width="0.18" font-weight="normal">BEDROOM</text>
<text x="122.5" y="318.65" font-size="6.9" text-anchor="middle" textLength="32.5" lengthAdjust="spacingAndGlyphs" fill="#1c1c1c" stroke="#1c1c1c" stroke-width="0.18" font-weight="normal">16&#39;1&quot; x 12&#39;5&quot;</text>
<text x="122.3" y="366.0" font-size="6.9" text-anchor="middle" textLength="14.6" lengthAdjust="spacingAndGlyphs" fill="#1c1c1c" stroke="#1c1c1c" stroke-width="0.18" font-weight="normal">BATH</text>
<text x="122.6" y="373.9" font-size="6.9" text-anchor="middle" textLength="29.8" lengthAdjust="spacingAndGlyphs" fill="#1c1c1c" stroke="#1c1c1c" stroke-width="0.18" font-weight="normal">12&#39;5&quot; x 6&#39;1&quot;</text>
<text x="185.75" y="364.65" font-size="6.9" text-anchor="middle" textLength="27.5" lengthAdjust="spacingAndGlyphs" fill="#1c1c1c" stroke="#1c1c1c" stroke-width="0.18" font-weight="normal">HALLWAY</text>
<text x="186.25" y="372.4" font-size="6.9" text-anchor="middle" textLength="33.5" lengthAdjust="spacingAndGlyphs" fill="#1c1c1c" stroke="#1c1c1c" stroke-width="0.18" font-weight="normal">10&#39;2&quot; x 12&#39;8&quot;</text>
<text x="250.75" y="359.9" font-size="6.9" text-anchor="middle" textLength="18.75" lengthAdjust="spacingAndGlyphs" fill="#1c1c1c" stroke="#1c1c1c" stroke-width="0.18" font-weight="normal">FOYER</text>
<text x="250.75" y="367.9" font-size="6.9" text-anchor="middle" textLength="33.75" lengthAdjust="spacingAndGlyphs" fill="#1c1c1c" stroke="#1c1c1c" stroke-width="0.18" font-weight="normal">11&#39;0&quot; x 13&#39;2&quot;</text>
<text x="112" y="431.65" font-size="6.9" text-anchor="middle" textLength="29.5" lengthAdjust="spacingAndGlyphs" fill="#1c1c1c" stroke="#1c1c1c" stroke-width="0.18" font-weight="normal">BEDROOM</text>
<text x="112" y="439.65" font-size="6.9" text-anchor="middle" textLength="33.25" lengthAdjust="spacingAndGlyphs" fill="#1c1c1c" stroke="#1c1c1c" stroke-width="0.18" font-weight="normal">15&#39;0&quot; x 13&#39;0&quot;</text>
<text transform="translate(159.25,439.5) rotate(-90)" x="0" y="2.484" font-size="6.9" text-anchor="middle" textLength="20.75" lengthAdjust="spacingAndGlyphs" fill="#1c1c1c" stroke="#1c1c1c" stroke-width="0.18">CLOSET</text>
<text x="180.75" y="455.4" font-size="6.9" text-anchor="middle" textLength="17.5" lengthAdjust="spacingAndGlyphs" fill="#1c1c1c" stroke="#1c1c1c" stroke-width="0.18" font-weight="normal">STORE</text>
<text transform="translate(198.75,451.75) rotate(-90)" x="0" y="2.484" font-size="6.9" text-anchor="middle" textLength="27.5" lengthAdjust="spacingAndGlyphs" fill="#1c1c1c" stroke="#1c1c1c" stroke-width="0.18">HALLWAY</text>
<text transform="translate(207.5,451.75) rotate(-90)" x="0" y="2.484" font-size="6.9" text-anchor="middle" textLength="30" lengthAdjust="spacingAndGlyphs" fill="#1c1c1c" stroke="#1c1c1c" stroke-width="0.18">3&#39;6&quot; x 17&#39;8&quot;</text>
<text x="156.6" y="480.8" font-size="6.9" text-anchor="middle" textLength="26.8" lengthAdjust="spacingAndGlyphs" fill="#1c1c1c" stroke="#1c1c1c" stroke-width="0.18" font-weight="normal">LAUNDRY</text>
<text x="156.75" y="488.0" font-size="6.9" text-anchor="middle" textLength="29.9" lengthAdjust="spacingAndGlyphs" fill="#1c1c1c" stroke="#1c1c1c" stroke-width="0.18" font-weight="normal">11&#39;2&quot; x 6&#39;4&quot;</text>
<text x="150.75" y="502.2" font-size="6.9" text-anchor="middle" textLength="11.5" lengthAdjust="spacingAndGlyphs" fill="#1c1c1c" stroke="#1c1c1c" stroke-width="0.18" font-weight="normal">W/D</text>
<text x="93.8" y="480.8" font-size="10.1" text-anchor="middle" textLength="49.2" lengthAdjust="spacingAndGlyphs" fill="#1a1a1a" stroke="#1a1a1a" stroke-width="0.1" font-weight="normal">FIRST FLOOR</text>
<text x="284.5" y="183.4" font-size="6.9" text-anchor="middle" textLength="61" lengthAdjust="spacingAndGlyphs" fill="#1c1c1c" stroke="#1c1c1c" stroke-width="0.18" font-weight="normal">LIVING/FAMILY ROOM</text>
<text x="285" y="191.4" font-size="6.9" text-anchor="middle" textLength="34.5" lengthAdjust="spacingAndGlyphs" fill="#1c1c1c" stroke="#1c1c1c" stroke-width="0.18" font-weight="normal">32&#39;5&quot; x 28&#39;2&quot;</text>
<text x="343.75" y="294.15" font-size="6.9" text-anchor="middle" textLength="40" lengthAdjust="spacingAndGlyphs" fill="#1c1c1c" stroke="#1c1c1c" stroke-width="0.18" font-weight="normal">DINING ROOM</text>
<text x="343.75" y="302.15" font-size="6.9" text-anchor="middle" textLength="37.5" lengthAdjust="spacingAndGlyphs" fill="#1c1c1c" stroke="#1c1c1c" stroke-width="0.18" font-weight="normal">17&#39;0&quot; x 12&#39;10&quot;</text>
<text x="305.6" y="374.9" font-size="6.300000000000001" text-anchor="middle" textLength="8.75" lengthAdjust="spacingAndGlyphs" fill="#1c1c1c" stroke="#1c1c1c" stroke-width="0.18" font-weight="normal">WC</text>
<text x="305.6" y="382.15" font-size="6.300000000000001" text-anchor="middle" textLength="23.75" lengthAdjust="spacingAndGlyphs" fill="#1c1c1c" stroke="#1c1c1c" stroke-width="0.18" font-weight="normal">6&#39;8&quot; x 6&#39;6&quot;</text>
<text x="356.6" y="364.7" font-size="6.9" text-anchor="middle" textLength="11.2" lengthAdjust="spacingAndGlyphs" fill="#1c1c1c" stroke="#1c1c1c" stroke-width="0.18" font-weight="normal">ENS</text>
<text x="356.9" y="372.8" font-size="6.9" text-anchor="middle" textLength="29.8" lengthAdjust="spacingAndGlyphs" fill="#1c1c1c" stroke="#1c1c1c" stroke-width="0.18" font-weight="normal">10&#39;4&quot; x 6&#39;6&quot;</text>
<text x="342.5" y="422.9" font-size="6.9" text-anchor="middle" textLength="29.5" lengthAdjust="spacingAndGlyphs" fill="#1c1c1c" stroke="#1c1c1c" stroke-width="0.18" font-weight="normal">BEDROOM</text>
<text x="342" y="430.9" font-size="6.9" text-anchor="middle" textLength="34.5" lengthAdjust="spacingAndGlyphs" fill="#1c1c1c" stroke="#1c1c1c" stroke-width="0.18" font-weight="normal">17&#39;7&quot; x 15&#39;0&quot;</text>
<text transform="translate(294.5,442.3) rotate(-90)" x="0" y="2.484" font-size="6.9" text-anchor="middle" textLength="21.5" lengthAdjust="spacingAndGlyphs" fill="#1c1c1c" stroke="#1c1c1c" stroke-width="0.18">CLOSET</text>
<text x="486.25" y="364.15" font-size="6.9" text-anchor="middle" textLength="40.75" lengthAdjust="spacingAndGlyphs" fill="#1c1c1c" stroke="#1c1c1c" stroke-width="0.18" font-weight="normal">SITTING ROOM</text>
<text x="486.25" y="372.4" font-size="6.9" text-anchor="middle" textLength="37" lengthAdjust="spacingAndGlyphs" fill="#1c1c1c" stroke="#1c1c1c" stroke-width="0.18" font-weight="normal">17&#39;10&quot; x 27&#39;0&quot;</text>
<text x="488.25" y="462.9" font-size="6.9" text-anchor="middle" textLength="17.5" lengthAdjust="spacingAndGlyphs" fill="#1c1c1c" stroke="#1c1c1c" stroke-width="0.18" font-weight="normal">STORE</text>
<text x="476.75" y="487.8" font-size="9.5" text-anchor="middle" textLength="62.6" lengthAdjust="spacingAndGlyphs" fill="#1a1a1a" stroke="#1a1a1a" stroke-width="0.1" font-weight="normal">SECOND FLOOR</text>
<text x="653.25" y="136.8" font-size="6.7" text-anchor="middle" textLength="9.25" lengthAdjust="spacingAndGlyphs" fill="#1c1c1c" stroke="#1c1c1c" stroke-width="0.18" font-weight="normal">SPA</text>
<text x="654.25" y="155.9" font-size="6.9" text-anchor="middle" textLength="14.25" lengthAdjust="spacingAndGlyphs" fill="#1c1c1c" stroke="#1c1c1c" stroke-width="0.18" font-weight="normal">POOL</text>
<text x="661.75" y="187.15" font-size="6.6000000000000005" text-anchor="middle" textLength="41.25" lengthAdjust="spacingAndGlyphs" fill="#1c1c1c" stroke="#1c1c1c" stroke-width="0.18" font-weight="normal">COVERED PATIO</text>
<text x="646" y="274.0" font-size="14" text-anchor="middle" textLength="67" lengthAdjust="spacingAndGlyphs" fill="#111" stroke="#111" stroke-width="0.2" font-weight="normal">RESIDENCE</text>
<text x="655" y="346.65" font-size="6.9" text-anchor="middle" textLength="17.5" lengthAdjust="spacingAndGlyphs" fill="#1c1c1c" stroke="#1c1c1c" stroke-width="0.18" font-weight="normal">PORCH</text>
<text x="614.5" y="398.4" font-size="6.9" text-anchor="middle" textLength="21" lengthAdjust="spacingAndGlyphs" fill="#1c1c1c" stroke="#1c1c1c" stroke-width="0.18" font-weight="normal">GARAGE</text>
<text x="685.75" y="398.4" font-size="6.9" text-anchor="middle" textLength="27.5" lengthAdjust="spacingAndGlyphs" fill="#1c1c1c" stroke="#1c1c1c" stroke-width="0.18" font-weight="normal">DRIVEWAY</text>
<text x="771.9" y="53.5" font-size="10" text-anchor="middle" textLength="6.3" lengthAdjust="spacingAndGlyphs" fill="#111" stroke="#111" stroke-width="0.1" font-weight="normal">N</text>
<text x="128.5" y="543.4" font-size="9.6" text-anchor="middle" textLength="215" lengthAdjust="spacingAndGlyphs" fill="#1a1a1a" stroke="#1a1a1a" stroke-width="0.3" font-weight="normal">10124 WINDSOR LAKES CT W, JACKSONVILLE, FL, 32225</text>
<text x="1.5" y="545" font-size="16.5" textLength="142" lengthAdjust="spacingAndGlyphs" fill="#fff" stroke="#1a1a1a" stroke-width="0.65">©2023 NEFMLS, INC. All</text>
</g>
</svg>
</body></html>
